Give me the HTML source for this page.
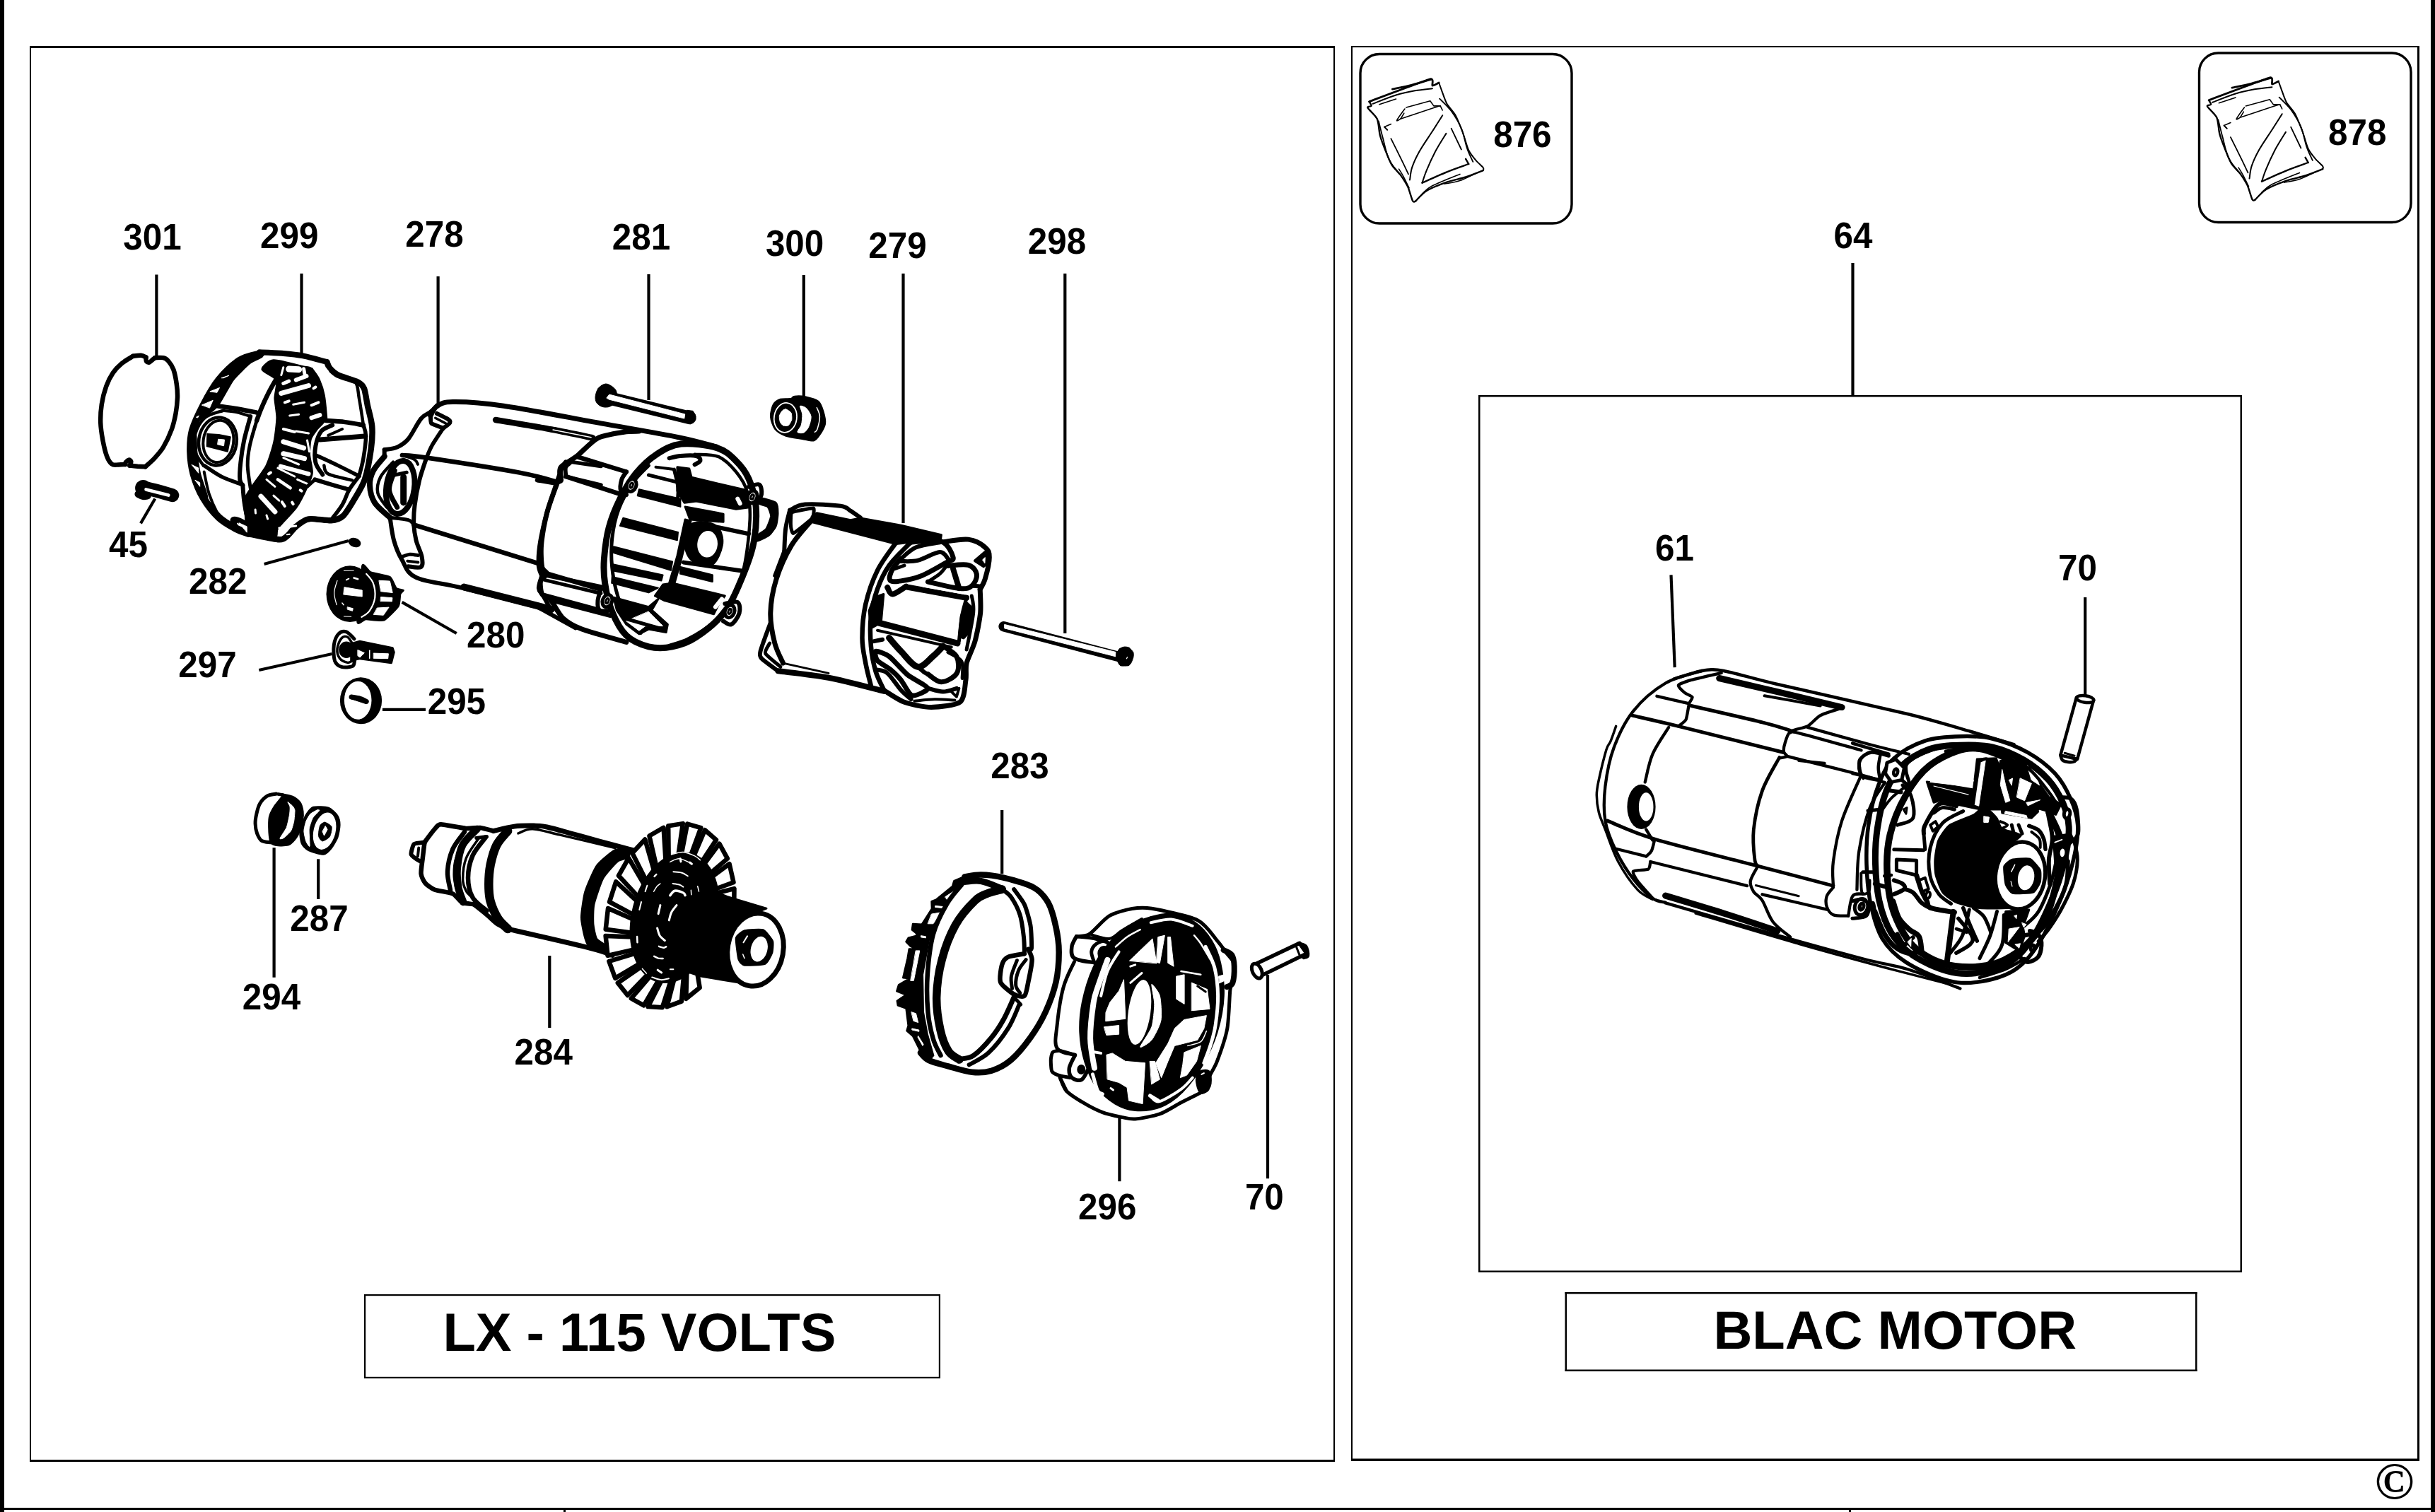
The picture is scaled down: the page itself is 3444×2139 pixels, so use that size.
<!DOCTYPE html>
<html><head><meta charset="utf-8"><title>Motor parts diagram</title>
<style>html,body{margin:0;padding:0;background:#fff}svg{display:block}</style></head>
<body><svg width="3444" height="2139" viewBox="0 0 3444 2139" shape-rendering="geometricPrecision">
<rect width="3444" height="2139" fill="#fff"/>
<g fill="#000">
<rect x="0" y="0" width="6" height="2139"/>
<rect x="3438" y="0" width="6" height="2139"/>
<rect x="0" y="2133" width="3444" height="3"/>
<rect x="797" y="2133" width="3" height="6"/>
<rect x="2615" y="2133" width="3" height="6"/>
<rect x="42" y="65" width="1846" height="3"/><rect x="42" y="2065" width="1846" height="3"/><rect x="42" y="65" width="2" height="2003"/><rect x="1886" y="65" width="2" height="2003"/>
<rect x="1911" y="65" width="1511" height="2"/><rect x="1911" y="2063.5" width="1511" height="3.5"/><rect x="1911" y="65" width="2" height="2002"/><rect x="3419" y="65" width="3" height="2002"/>
<rect x="2091" y="559" width="1080" height="2.5"/><rect x="2091" y="1797.5" width="1080" height="2.5"/><rect x="2091" y="559" width="2.5" height="1241"/><rect x="3168.5" y="559" width="2.5" height="1241"/>
<rect x="515" y="1831" width="815" height="2.2"/><rect x="515" y="1947.8" width="815" height="2.2"/><rect x="515" y="1831" width="2.2" height="119"/><rect x="1327.8" y="1831" width="2.2" height="119"/>
<rect x="2213.5" y="1828" width="894" height="2.5"/><rect x="2213.5" y="1937.5" width="894" height="2.5"/><rect x="2213.5" y="1828" width="2.5" height="112"/><rect x="3105" y="1828" width="2.5" height="112"/>
</g>
<rect x="1924" y="76.5" width="299" height="239.5" rx="27" ry="27" fill="none" stroke="#000" stroke-width="3.4"/>
<rect x="3110.5" y="75" width="299.5" height="239.5" rx="27" ry="27" fill="none" stroke="#000" stroke-width="3.4"/>
<g fill="#000">
<text x="174.3" y="353.5" font-size="52" font-weight="bold" font-family="'Liberation Sans', sans-serif" transform="translate(174.3 0) scale(0.9500 1) translate(-174.3 0)">301</text>
<text x="368.1" y="351.4" font-size="52" font-weight="bold" font-family="'Liberation Sans', sans-serif" transform="translate(368.1 0) scale(0.9500 1) translate(-368.1 0)">299</text>
<text x="573.2" y="348.8" font-size="52" font-weight="bold" font-family="'Liberation Sans', sans-serif" transform="translate(573.2 0) scale(0.9500 1) translate(-573.2 0)">278</text>
<text x="865.8" y="353.5" font-size="52" font-weight="bold" font-family="'Liberation Sans', sans-serif" transform="translate(865.8 0) scale(0.9500 1) translate(-865.8 0)">281</text>
<text x="1082.9" y="362" font-size="52" font-weight="bold" font-family="'Liberation Sans', sans-serif" transform="translate(1082.9 0) scale(0.9500 1) translate(-1082.9 0)">300</text>
<text x="1228.3" y="364.7" font-size="52" font-weight="bold" font-family="'Liberation Sans', sans-serif" transform="translate(1228.3 0) scale(0.9500 1) translate(-1228.3 0)">279</text>
<text x="1453.8" y="359.4" font-size="52" font-weight="bold" font-family="'Liberation Sans', sans-serif" transform="translate(1453.8 0) scale(0.9500 1) translate(-1453.8 0)">298</text>
<text x="154" y="788.4" font-size="52" font-weight="bold" font-family="'Liberation Sans', sans-serif" transform="translate(154 0) scale(0.9500 1) translate(-154 0)">45</text>
<text x="267.1" y="840.2" font-size="52" font-weight="bold" font-family="'Liberation Sans', sans-serif" transform="translate(267.1 0) scale(0.9500 1) translate(-267.1 0)">282</text>
<text x="660" y="916" font-size="52" font-weight="bold" font-family="'Liberation Sans', sans-serif" transform="translate(660 0) scale(0.9500 1) translate(-660 0)">280</text>
<text x="252.3" y="957.8" font-size="52" font-weight="bold" font-family="'Liberation Sans', sans-serif" transform="translate(252.3 0) scale(0.9500 1) translate(-252.3 0)">297</text>
<text x="604.7" y="1009.6" font-size="52" font-weight="bold" font-family="'Liberation Sans', sans-serif" transform="translate(604.7 0) scale(0.9500 1) translate(-604.7 0)">295</text>
<text x="410.3" y="1317.2" font-size="52" font-weight="bold" font-family="'Liberation Sans', sans-serif" transform="translate(410.3 0) scale(0.9500 1) translate(-410.3 0)">287</text>
<text x="342.8" y="1427.8" font-size="52" font-weight="bold" font-family="'Liberation Sans', sans-serif" transform="translate(342.8 0) scale(0.9500 1) translate(-342.8 0)">294</text>
<text x="727.6" y="1506.4" font-size="52" font-weight="bold" font-family="'Liberation Sans', sans-serif" transform="translate(727.6 0) scale(0.9500 1) translate(-727.6 0)">284</text>
<text x="1401.3" y="1101" font-size="52" font-weight="bold" font-family="'Liberation Sans', sans-serif" transform="translate(1401.3 0) scale(0.9500 1) translate(-1401.3 0)">283</text>
<text x="1525" y="1725.4" font-size="52" font-weight="bold" font-family="'Liberation Sans', sans-serif" transform="translate(1525 0) scale(0.9500 1) translate(-1525 0)">296</text>
<text x="1760.9" y="1711.4" font-size="52" font-weight="bold" font-family="'Liberation Sans', sans-serif" transform="translate(1760.9 0) scale(0.9500 1) translate(-1760.9 0)">70</text>
<text x="2112.2" y="208.4" font-size="52" font-weight="bold" font-family="'Liberation Sans', sans-serif" transform="translate(2112.2 0) scale(0.9500 1) translate(-2112.2 0)">876</text>
<text x="3293" y="204.7" font-size="52" font-weight="bold" font-family="'Liberation Sans', sans-serif" transform="translate(3293 0) scale(0.9500 1) translate(-3293 0)">878</text>
<text x="2593.6" y="351.4" font-size="52" font-weight="bold" font-family="'Liberation Sans', sans-serif" transform="translate(2593.6 0) scale(0.9500 1) translate(-2593.6 0)">64</text>
<text x="2341.1" y="793.4" font-size="52" font-weight="bold" font-family="'Liberation Sans', sans-serif" transform="translate(2341.1 0) scale(0.9500 1) translate(-2341.1 0)">61</text>
<text x="2911" y="821.2" font-size="52" font-weight="bold" font-family="'Liberation Sans', sans-serif" transform="translate(2911 0) scale(0.9500 1) translate(-2911 0)">70</text>
<text x="626.4" y="1911" font-size="76" font-weight="bold" font-family="'Liberation Sans', sans-serif">LX - 115 VOLTS</text>
<text x="2423.4" y="1907.5" font-size="76" font-weight="bold" font-family="'Liberation Sans', sans-serif">BLAC MOTOR</text>
<text x="3386.5" y="2119.5" font-size="75" text-anchor="middle" font-family="'Liberation Serif', serif" font-weight="bold">©</text>
</g>
<g stroke="#000" stroke-width="4.2" stroke-linecap="butt">
<line x1="221.4" y1="388.5" x2="221.4" y2="505"/>
<line x1="426.5" y1="387" x2="426.5" y2="503"/>
<line x1="619.6" y1="391" x2="619.6" y2="573"/>
<line x1="917.5" y1="388" x2="917.5" y2="566"/>
<line x1="1136.8" y1="389" x2="1136.8" y2="562"/>
<line x1="1277.5" y1="387" x2="1277.5" y2="740"/>
<line x1="1506.3" y1="387" x2="1506.3" y2="896"/>
<line x1="219.3" y1="705.5" x2="199" y2="740.4"/>
<line x1="373.6" y1="798" x2="493" y2="765"/>
<line x1="568.6" y1="851.9" x2="645.7" y2="896"/>
<line x1="366.3" y1="948" x2="469.6" y2="925"/>
<line x1="540.9" y1="1003.8" x2="602" y2="1003.8"/>
<line x1="387.6" y1="1199.3" x2="387.6" y2="1382.7"/>
<line x1="450.2" y1="1215.3" x2="450.2" y2="1272"/>
<line x1="777.3" y1="1352" x2="777.3" y2="1454"/>
<line x1="1417.2" y1="1146" x2="1417.2" y2="1236"/>
<line x1="1583.4" y1="1580" x2="1583.4" y2="1671.2"/>
<line x1="1793" y1="1379" x2="1793" y2="1667.2"/>
<line x1="2620.5" y1="372" x2="2620.5" y2="559.4"/>
<line x1="2363.5" y1="813.3" x2="2368.7" y2="944.2"/>
<line x1="2949.2" y1="845" x2="2949.2" y2="984"/>
</g>
<g stroke-linecap="round" stroke-linejoin="round">
<path d="M188.3 503.8 C190.1 503.6 196.3 502.4 199.4 502.7 C202.4 503 205.3 504.9 206.5 505.4" fill="none" stroke="#000" stroke-width="6.5"/>
<path d="M206.5 505.4 C206.6 506.3 206.2 509.8 207 511 C207.8 512.1 209.8 512.9 211.3 512.5 C212.8 512.1 214.7 509.6 216 508.6 C217.4 507.5 218.7 506.6 219.2 506.2" fill="none" stroke="#000" stroke-width="6.5"/>
<path d="M219.2 506.2 C221.2 506.2 227.9 505.4 231.1 506.2 C234.3 507 235.9 508.2 238.3 511 C240.6 513.7 243.5 517.4 245.4 522.9 C247.3 528.3 248.9 536.9 249.8 543.5 C250.8 550.1 251.2 555.7 251 562.5 C250.7 569.4 249.9 577.4 248.6 584.8 C247.2 592.2 245.9 599 243 607 C240.1 614.9 235.2 625.5 231.1 632.4 C227 639.3 222.6 643.6 218.4 648.3 C214.2 652.9 207.8 658.2 205.7 660.2" fill="none" stroke="#000" stroke-width="6.5"/>
<path d="M205.7 660.2 C203.9 660.1 198.3 659.9 194.6 659.7 C190.9 659.4 185.3 658.8 183.5 658.6" fill="none" stroke="#000" stroke-width="6.5"/>
<path d="M183.5 658.6 C183.8 657.6 185.6 654.3 185.4 653 C185.2 651.7 183.5 650.5 182.2 650.6 C181 650.8 178.8 652.8 177.9 653.8 C177.1 654.9 177.3 656.5 177.1 657" fill="none" stroke="#000" stroke-width="6.5"/>
<path d="M177.1 657 C175.6 657.1 170.8 657.5 167.6 657.5 C164.4 657.4 160.9 658.6 158.1 656.5 C155.3 654.4 153.1 650.7 151 645.1 C148.8 639.5 146.9 630.8 145.4 622.9 C143.9 614.9 142.5 605.9 142.2 597.5 C142 589 142.5 580.5 143.8 572.1 C145.1 563.6 147.5 554.1 150.2 546.7 C152.8 539.3 156 533 159.7 527.6 C163.4 522.2 167.6 518.1 172.4 514.1 C177.1 510.2 185.6 505.5 188.3 503.8" fill="none" stroke="#000" stroke-width="6.5"/>
<path d="M202.5 689.5 C205.2 690.2 211.5 691.6 218.4 693.5 C225.3 695.3 239.6 699.4 243.8 700.6" fill="none" stroke="#000" stroke-width="19"/>
<ellipse cx="202.5" cy="690.3" rx="11.4" ry="11.4" fill="#000"/>
<path d="M195.4 699 C196.6 699.6 200.3 701.8 202.5 702.2 C204.8 702.6 207.8 701.6 208.9 701.4" fill="none" stroke="#000" stroke-width="10"/>
<path d="M206.5 692.4 L238.3 700.6" fill="none" stroke="#fff" stroke-width="4.6"/>
<path d="M371 522.7 C370.5 519.4 380.2 510.2 386.9 509.8 C393.6 509.3 422.2 517.2 428.6 518.7 C434.9 520.2 438.5 518.4 441.5 522.7 C444.5 526.9 452.1 547.4 454.4 555.4 C456.6 563.4 461.4 585.1 460.7 591.1 C460 597.1 450.9 603.5 448.4 607 C445.9 610.5 440.8 616.7 439.5 620.9 C438.2 625 437.3 637.1 437.5 642.7 C437.7 648.3 441.8 663.2 441.5 668.5 C441.1 673.8 437.2 682.5 434.5 688.3 C431.9 694.1 423.5 711.3 418.7 718.1 C413.8 724.9 396.3 742 392.9 746.9 C389.4 751.7 393.6 758.8 388.9 759.8 C384.1 760.7 357 758.5 352.2 754.8 C347.3 751.1 348 733.5 347.2 728 C346.4 722.6 344.3 712.6 345.2 708.2 C346.2 703.8 351.5 696.1 355.2 690.3 C358.9 684.5 373.2 666.2 377 658.6 C380.8 650.9 386.2 632.7 387.9 624.8 C389.6 617 391.7 598.3 391.9 591.1 C392 583.9 389 569.6 388.9 563.3 C388.8 557.1 393.4 542.3 391.3 537.5 C389.2 532.8 371.5 525.9 371 522.7Z" fill="#000" stroke="#000" stroke-width="3"/>
<path d="M397.8 556.4 L436.5 545.5" fill="none" stroke="#fff" stroke-width="7"/>
<path d="M414.7 572.3 L430.6 569.3" fill="none" stroke="#fff" stroke-width="3"/>
<path d="M409.7 588.1 L422.6 586.2" fill="none" stroke="#fff" stroke-width="3"/>
<path d="M440.5 591.1 L452.4 587.1" fill="none" stroke="#fff" stroke-width="6"/>
<path d="M418.7 610 L436.5 612.9" fill="none" stroke="#fff" stroke-width="3"/>
<path d="M400.8 624.8 L429.6 633.8" fill="none" stroke="#fff" stroke-width="7"/>
<path d="M400.8 641.7 L430.6 648.7" fill="none" stroke="#fff" stroke-width="7"/>
<path d="M400.8 647.7 L422.6 657" fill="none" stroke="#fff" stroke-width="3"/>
<path d="M396.8 659.6 L436.5 670.5" fill="none" stroke="#fff" stroke-width="6"/>
<path d="M392.9 662.1 L416.7 674" fill="none" stroke="#fff" stroke-width="3"/>
<path d="M392.9 678.4 L410.7 690.3" fill="none" stroke="#fff" stroke-width="4.5"/>
<path d="M369 702.2 L388.9 724" fill="none" stroke="#fff" stroke-width="7"/>
<path d="M398.8 710.2 L402.8 716.1" fill="none" stroke="#fff" stroke-width="4"/>
<path d="M408.7 522.1 L422.6 522.7" fill="none" stroke="#fff" stroke-width="9"/>
<path d="M397.8 530.6 L400.8 519.7" fill="none" stroke="#fff" stroke-width="3"/>
<path d="M400.8 542.5 L408.7 539.1" fill="none" stroke="#fff" stroke-width="5"/>
<path d="M418.7 537.5 L433.5 532" fill="none" stroke="#fff" stroke-width="6"/>
<path d="M361.1 721.1 L361.5 726" fill="none" stroke="#fff" stroke-width="3"/>
<path d="M377 729 L378.6 734" fill="none" stroke="#fff" stroke-width="3"/>
<path d="M424.6 693.3 L426.6 694.7" fill="none" stroke="#fff" stroke-width="4"/>
<path d="M413.1 710.6 L414.7 713.1" fill="none" stroke="#fff" stroke-width="4"/>
<path d="M402.8 569.3 L408.7 567.3" fill="none" stroke="#fff" stroke-width="4"/>
<path d="M440.5 573.3 L450.4 569.3" fill="none" stroke="#fff" stroke-width="4"/>
<path d="M443.5 549.4 L446.4 547.5" fill="none" stroke="#fff" stroke-width="4"/>
<path d="M380 670.5 L382.9 668.5" fill="none" stroke="#fff" stroke-width="4"/>
<path d="M377 678.4 L388.9 688.3" fill="none" stroke="#fff" stroke-width="3"/>
<path d="M420.6 678.4 L434.5 684.4" fill="none" stroke="#fff" stroke-width="3"/>
<path d="M386.9 701.2 L394.8 708.2" fill="none" stroke="#fff" stroke-width="3"/>
<path d="M429.6 521.7 L431 529.6" fill="none" stroke="#fff" stroke-width="5"/>
<path d="M400.8 607 L416.7 611" fill="none" stroke="#fff" stroke-width="4"/>
<path d="M434.5 622.9 L437.5 638.7" fill="none" stroke="#fff" stroke-width="3"/>
<path d="M369 500.2 C364.1 501.8 349.2 503.5 339.3 509.8 C329.4 516 318.1 527 309.5 537.5 C300.9 548.1 293.9 561.3 287.7 573.3 C281.5 585.2 275.3 598.1 272.2 609 C269.2 619.9 269.2 628.5 269.4 638.7 C269.7 649 270.8 659.6 273.8 670.5 C276.9 681.4 281.7 694 287.7 704.2 C293.7 714.5 301.9 724.8 309.5 732 C317.1 739.2 326.2 743.7 333.3 747.5 C340.4 751.3 349 753.6 352.2 754.8" fill="none" stroke="#000" stroke-width="10.5"/>
<path d="M369 498.8 C366 499.2 345.2 505 339.3 508.8 C333.3 512.5 314.8 530.2 309.5 536.5 C304.3 542.9 289.9 566.8 286.7 572.3 C283.5 577.7 278.3 588.9 277.8 591.1 C277.3 593.3 278.8 595.8 281.7 594.1 C284.7 592.4 302.8 579.9 307.5 574.2 C312.3 568.6 324.8 543.6 329.4 537.5 C333.9 531.5 349.1 517 353.2 513.7 C357.2 510.5 368.5 506.3 370 504.8 C371.6 503.3 372.1 498.5 369 498.8Z" fill="#000" stroke="#000" stroke-width="3"/>
<path d="M272.2 609 C271.5 611.3 269.3 632.6 269.4 638.7 C269.6 644.9 272 663.9 273.8 670.5 C275.6 677 285.8 701 287.7 704.2 C289.6 707.4 293.2 705.6 292.7 702.2 C292.2 698.8 284.2 676.8 282.7 670.5 C281.2 664.1 278.4 644.3 277.8 638.7 C277.2 633.2 277.3 617.9 276.8 614.9 C276.2 611.9 273 606.6 272.2 609Z" fill="#000" stroke="#000" stroke-width="3"/>
<path d="M367.1 498.3 C372.4 498.5 388.6 499 398.8 499.8 C409.1 500.7 418 501.4 428.6 503.4 C439.2 505.5 456.7 510.7 462.3 512.1" fill="none" stroke="#000" stroke-width="8"/>
<path d="M462.3 512.1 C462.8 513.3 464.2 518.2 466.3 520.7 C468.4 523.1 472.9 527.9 478.2 530.6 C483.5 533.2 501.1 538 506 540.5 C510.8 543 513 545.1 514.9 549.4 C516.7 553.8 518.3 566.1 519.8 573.3 C521.3 580.4 525.5 594.8 526.2 603 C526.9 611.2 526.2 624.7 524.8 634.8 C523.4 644.8 519.2 668.6 515.9 678.4 C512.6 688.2 504.1 701.3 500 708.2 C495.9 715.1 489.4 726.2 485.1 730 C480.9 733.8 474.7 735.8 468.3 736.3 C461.8 736.9 443.1 733.2 436.5 734.4 C429.9 735.5 422.6 741.8 418.7 744.9 C414.7 748 409.9 755.3 406.7 757.8 C403.6 760.2 402.1 763.7 394.8 763.3 C387.6 763 357.9 756.5 352.2 755.4" fill="none" stroke="#000" stroke-width="8.5"/>
<path d="M477.2 537.9 L501.6 546.5 L501.6 549.4 L477.2 541.1Z" fill="#fff" stroke="#fff" stroke-width="2"/>
<path d="M439.5 738.9 L463.9 741.5 L463.3 744.9 L439.5 742.3Z" fill="#fff" stroke="#fff" stroke-width="2"/>
<path d="M460.3 520.7 L464.3 525.6" fill="none" stroke="#fff" stroke-width="2"/>
<path d="M440.5 522.7 C442.1 525.1 447.6 531.4 450.4 537.5 C453.2 543.7 455.6 550.4 457.3 559.4 C459.1 568.3 460.2 585.8 460.7 591.1" fill="none" stroke="#000" stroke-width="5"/>
<path d="M478.2 530.6 C482.1 532.1 497 534.1 502 539.5 C506.9 545 506 553.1 507.9 563.3 C509.9 573.6 512.9 594.7 513.9 601" fill="none" stroke="#000" stroke-width="4.5"/>
<path d="M352.2 743.9 C349.7 742.6 341.1 737.3 337.3 736 C333.5 734.6 330 734.3 329.4 736 C328.7 737.6 332.7 744.2 333.3 745.9" fill="none" stroke="#000" stroke-width="8"/>
<path d="M338.3 739.9 L349.2 744.9 L349.2 752.8Z" fill="#fff" stroke="#fff" stroke-width="1"/>
<path d="M307.5 574.2 C312.2 574.9 326.1 576.7 335.3 578.2 C344.6 579.8 358.5 582.7 363.1 583.6" fill="none" stroke="#000" stroke-width="6.5"/>
<path d="M389.9 537.5 C388.1 540.8 382.4 550.4 379 557.4 C375.5 564.3 371.7 572.9 369 579.2 C366.4 585.5 364.1 592.4 363.1 595.1" fill="none" stroke="#000" stroke-width="6.5"/>
<path d="M363.1 595.1 C361.4 601 355.3 620.2 353.2 630.8 C351 641.4 350 648.7 350.2 658.6 C350.4 668.5 353.5 685 354.2 690.3" fill="none" stroke="#000" stroke-width="5"/>
<path d="M315.5 580.8 C318.8 581.2 328.9 581.8 335.3 583.2 C341.8 584.6 351 588.1 354.2 589.1" fill="none" stroke="#000" stroke-width="4"/>
<path d="M354.2 589.1 C352.7 594.7 347.6 611.9 345.2 622.9 C342.9 633.8 341.3 645.3 340.3 654.6 C339.3 663.9 338.8 673.1 339.3 678.4 C339.8 683.7 342.6 685 343.3 686.3" fill="none" stroke="#000" stroke-width="6"/>
<path d="M288.7 658.6 C292.8 661.2 304.6 670 313.5 674.4 C322.4 678.9 337.5 683.5 342.3 685.4" fill="none" stroke="#000" stroke-width="5.5"/>
<path d="M343.3 686.3 C343.6 690 344.2 700.9 345.2 708.2 C346.2 715.4 347.9 724.7 349.2 730 C350.5 735.3 352.5 738.3 353.2 739.9" fill="none" stroke="#000" stroke-width="6"/>
<path d="M288.7 667.5 C289.8 672.6 292.5 688.5 295.6 698.3 C298.8 708 304.2 719.7 307.5 726 C310.8 732.3 314.2 734.3 315.5 736" fill="none" stroke="#000" stroke-width="4"/>
<path d="M315.5 580.8 C311.2 582.5 296.3 585.4 289.7 591.1 C283.1 596.8 278.1 607 275.8 614.9 C273.5 622.9 273.8 631.5 275.8 638.7 C277.8 646 285.7 655.3 287.7 658.6" fill="none" stroke="#000" stroke-width="4.5"/>
<ellipse cx="307.9" cy="624.4" rx="26.8" ry="34.1" fill="none" stroke="#000" stroke-width="4.5" transform="rotate(8 307.9 624.4)"/>
<ellipse cx="308.9" cy="624.4" rx="21.4" ry="29.8" fill="none" stroke="#000" stroke-width="4" transform="rotate(8 308.9 624.4)"/>
<path d="M293.3 613.9 L309.5 614.9 L325.8 618.3 L321.8 638.7 L292.7 631.2Z" fill="#000" stroke="#000" stroke-width="2"/>
<path d="M309.1 621.3 L317.5 622.1 L316.5 630.8 L307.9 628.8Z" fill="#fff" stroke="#fff" stroke-width="1"/>
<path d="M461.3 595.1 C465.8 595.4 479.3 596 488.1 597.1 C496.9 598.1 509.6 600.7 513.9 601.4" fill="none" stroke="#000" stroke-width="6.5"/>
<path d="M470.2 601.4 C467.6 602.9 458.3 605.1 454.4 610 C450.4 614.9 447.8 623.4 446.4 630.8 C445.1 638.2 444.8 647.8 446.4 654.6 C448.1 661.4 454.7 668.7 456.3 671.5" fill="none" stroke="#000" stroke-width="6"/>
<path d="M484.1 607 L464.3 615.9" fill="none" stroke="#000" stroke-width="4"/>
<path d="M452.4 621.9 L516.9 616.9" fill="none" stroke="#000" stroke-width="7"/>
<path d="M448.4 644.7 C453.4 647 468.3 653.8 478.2 658.6 C488.1 663.4 503 671 507.9 673.5" fill="none" stroke="#000" stroke-width="5.5"/>
<path d="M458.3 658.6 C459.3 660.6 457.7 667 464.3 670.5 C470.9 673.9 492.4 677.9 498 679.4" fill="none" stroke="#000" stroke-width="4.5"/>
<path d="M445.4 678.4 C449.2 679.6 460.2 683 468.3 685.4 C476.4 687.7 489.7 691.5 494 692.7" fill="none" stroke="#000" stroke-width="6"/>
<path d="M513.9 601.4 C514.5 604 517.5 609 517.5 616.9 C517.5 624.8 515.5 639.2 513.9 648.7 C512.3 658.1 508.9 669.3 507.9 673.5" fill="none" stroke="#000" stroke-width="5.5"/>
<path d="M507.9 673.5 C505.6 676.7 498 685.9 494 692.7 C490.1 699.5 488.4 707 484.1 714.1 C479.8 721.3 470.9 732 468.3 735.6" fill="none" stroke="#000" stroke-width="5.5"/>
<path d="M434.5 688.3 L445.4 678.4" fill="none" stroke="#000" stroke-width="5"/>
<path d="M394.8 746.9 L418.7 743.9" fill="none" stroke="#fff" stroke-width="3"/>
<path d="M405.8 756.2 L409.7 755.8" fill="none" stroke="#fff" stroke-width="2"/>
<path d="M313.5 534.6 L323.8 531.2 L316.5 534.6Z" fill="#fff" stroke="#fff" stroke-width="1"/>
<path d="M297.2 553.8 L310.5 548.5 L307.1 555Z" fill="#fff" stroke="#fff" stroke-width="1"/>
<path d="M285.7 572.9 L301.2 566.3 L296.6 576.8Z" fill="#fff" stroke="#fff" stroke-width="1"/>
<path d="M277.8 590.1 L281.3 588.1 L279.8 590.7Z" fill="#fff" stroke="#fff" stroke-width="1"/>
<path d="M271.4 657.6 L280.8 662.1 L280.8 668.9Z" fill="#fff" stroke="#fff" stroke-width="1"/>
<path d="M276.2 679.4 L282.7 682.8 L282.7 687.9Z" fill="#fff" stroke="#fff" stroke-width="1"/>
<path d="M608.9 588.3 C610.4 586.1 612.7 578.2 617.9 574.9 C623.2 571.6 624.7 568.7 640.4 568.6 C656.2 568.4 677.5 569.1 712.4 574.2 C747.3 579.2 808.8 591.5 850 598.9 C891.2 606.3 932.5 613.2 959.7 618.7 C987 624.3 1004.7 629.9 1013.7 632.2" fill="none" stroke="#000" stroke-width="7"/>
<path d="M543.7 636.2 C546.7 635.6 556.1 635.2 561.7 632.6 C567.3 630.1 571.8 627.7 577.5 621 C583.1 614.2 590.2 598.5 595.5 592.2 C600.7 585.8 605.2 585.8 608.9 582.7 C612.7 579.7 616.4 575.2 617.9 573.7" fill="none" stroke="#000" stroke-width="6"/>
<path d="M543.7 636.2 L543.7 645.7" fill="none" stroke="#000" stroke-width="6"/>
<path d="M608.9 588.3 C609 589.1 608.9 597.8 610.1 598.9 C611.3 600.1 625.8 605.2 626.9 605.7" fill="none" stroke="#000" stroke-width="6"/>
<path d="M626.9 605.7 C628.5 604.4 635.3 600.2 636.4 598 C637.4 595.9 636.3 595 633.2 592.8 C630.2 590.7 620.5 586.3 617.9 585" fill="none" stroke="#000" stroke-width="6"/>
<path d="M615.7 591.3 L630.3 598.9" fill="none" stroke="#000" stroke-width="3.5"/>
<path d="M626.9 605.7 C624.3 609.7 615.1 623 611.2 629.9 C607.3 636.9 604.6 644.6 603.3 647.5" fill="none" stroke="#000" stroke-width="5.5"/>
<path d="M701.1 594 C714.3 596.2 757 603.2 779.8 607.5 C802.7 611.7 828.6 617.4 838.3 619.4" fill="none" stroke="#000" stroke-width="8.5"/>
<path d="M725.9 592.2 L813.6 607.9" fill="none" stroke="#fff" stroke-width="1.5"/>
<path d="M782.1 608.1 L836.1 618.7" fill="none" stroke="#fff" stroke-width="1.5"/>
<path d="M568.9 643.9 C574.7 644.5 575.7 643.4 603.3 647.5 C631 651.6 704 662.9 734.9 668.6 C765.8 674.4 779.8 679.9 788.8 682.1" fill="none" stroke="#000" stroke-width="6.5"/>
<path d="M800.1 653.6 C799.1 655.2 793.7 662.5 792.9 665.9 C792 669.4 794.3 677.3 793.8 679.4 C793.2 681.6 789.5 681.8 788.8 682.1" fill="none" stroke="#000" stroke-width="6.5"/>
<path d="M809.1 653.6 L850 659.6" fill="none" stroke="#000" stroke-width="5.5"/>
<path d="M800.1 674.2 L850 686.2" fill="none" stroke="#000" stroke-width="5.5"/>
<path d="M788.8 682.1 C786.6 688.4 779.4 706.1 775.3 719.9 C771.3 733.7 766.8 751.8 764.6 764.9 C762.3 778 761.6 790.4 761.9 798.6 C762.2 806.8 765.6 811.7 766.4 814.3" fill="none" stroke="#000" stroke-width="6.5"/>
<path d="M603.3 647.5 C601.6 652.8 596 668.1 593.2 679.4 C590.4 690.7 587.8 704.9 586.5 715.4 C585.1 725.9 585 734.1 585.3 742.4 C585.7 750.6 586.8 757.4 588.7 764.9 C590.6 772.4 595.5 781.2 596.6 787.4 C597.7 793.5 598.6 799.7 595.5 802 C592.3 804.3 580.5 801.4 577.5 801.3" fill="none" stroke="#000" stroke-width="6"/>
<path d="M585.3 742.4 L760.7 796.8" fill="none" stroke="#000" stroke-width="6.5"/>
<path d="M551.6 732.3 C552.5 737.7 554.4 754.9 557.2 764.9 C560 774.8 563.2 783.2 568.5 791.9 C573.7 800.6 574.1 810.3 588.7 817 C603.3 823.8 624.3 824.5 656.2 832.3 C688 840.1 759.2 858.6 779.8 863.8" fill="none" stroke="#000" stroke-width="6"/>
<path d="M656.2 830.5 L779.8 862" fill="none" stroke="#000" stroke-width="10"/>
<path d="M570.3 786.9 C571.8 786.5 576.2 784.4 579.7 784.2 C583.2 784 589.5 785.3 591.4 785.6" fill="none" stroke="#000" stroke-width="5"/>
<path d="M576.3 793.7 L591.4 795.5" fill="none" stroke="#000" stroke-width="4"/>
<path d="M543.7 645.7 C541.1 649.1 531.4 659.2 528 665.9 C524.5 672.7 522.7 678.7 523 686.2 C523.3 693.7 525 703.2 529.8 710.9 C534.5 718.6 548 728.7 551.6 732.3" fill="none" stroke="#000" stroke-width="8"/>
<path d="M556.1 653.6 C553.1 657.1 541.7 667.6 538.1 674.9 C534.5 682.2 532.8 690.3 534.3 697.4 C535.8 704.5 545 714.3 547.1 717.6" fill="none" stroke="#000" stroke-width="4.5"/>
<ellipse cx="566.2" cy="689.5" rx="19.8" ry="37.8" fill="none" stroke="#000" stroke-width="8" transform="rotate(8 566.2 689.5)"/>
<path d="M551.6 732.3 C555.9 732.8 571.8 734 577.5 735.6 C583.1 737.3 584 741.3 585.3 742.4" fill="none" stroke="#000" stroke-width="5"/>
<path d="M568.9 643.9 C571.8 644.9 582.8 648 586.5 650.2 C590.1 652.4 590.2 655.8 591 656.9" fill="none" stroke="#000" stroke-width="4"/>
<path d="M558.3 665.9 C557 670.4 549.9 684.3 550.5 692.9 C551 701.5 559.8 713.5 561.7 717.6" fill="none" stroke="#000" stroke-width="7"/>
<path d="M570.7 674.9 L570.7 710.9" fill="none" stroke="#000" stroke-width="9"/>
<path d="M555 672.7 L575.2 668.2" fill="none" stroke="#000" stroke-width="5"/>
<path d="M766.4 814.3 C765.6 817.3 761.5 827.5 761.9 832.3 C762.2 837.2 765.6 838.3 768.6 843.6 C771.6 848.8 778 860.4 779.8 863.8" fill="none" stroke="#000" stroke-width="6"/>
<path d="M766.4 812.5 L850 830.1" fill="none" stroke="#000" stroke-width="6"/>
<path d="M770.9 820.6 L850 839.5" fill="none" stroke="#000" stroke-width="5"/>
<path d="M768.6 841.8 L850 864.3" fill="none" stroke="#000" stroke-width="5.5"/>
<path d="M963.5 628.1 C977.7 626.6 1001.2 629.7 1014.1 633.7 C1027 637.7 1033.6 644.9 1041.1 652.2 C1048.6 659.5 1054.4 666.8 1059.1 677.6 C1063.8 688.4 1068.1 701.8 1069.2 716.9 C1070.3 732.1 1069 752.2 1065.8 768.7 C1062.6 785.1 1056.8 799.8 1050.1 815.9 C1043.3 832 1036.2 851.1 1025.3 865.3 C1014.5 879.6 997.2 893.1 984.9 901.3 C972.5 909.6 962.4 912.6 951.1 914.8 C939.9 917.1 928.3 917.4 917.4 914.8 C906.5 912.2 894.5 907.3 885.9 899.1 C877.3 890.8 870.7 877.7 865.7 865.3 C860.6 853 857.4 837.2 855.6 824.9 C853.7 812.5 853.5 804.3 854.4 791.1 C855.4 778 857.4 760.4 861.2 746.2 C864.9 731.9 870.6 718.4 876.9 705.7 C883.3 692.9 890.8 680.2 899.4 669.7 C908 659.2 918 649.7 928.7 642.7 C939.3 635.8 949.3 629.6 963.5 628.1Z" fill="none" stroke="#000" stroke-width="9"/>
<path d="M917.4 658.5 C913.7 662.6 902 672.7 894.9 683.2 C887.8 693.7 879.6 708.3 874.7 721.4 C869.8 734.5 867.2 748.4 865.7 761.9 C864.2 775.4 864.4 788.9 865.7 802.4 C867 815.9 870 830.9 873.6 842.9 C877.1 854.9 881.6 865.5 887.1 874.3 C892.5 883.1 903 892.1 906.2 895.7" fill="none" stroke="#000" stroke-width="5"/>
<path d="M957.9 660.7 L974.8 663 L978.1 675.3 L1054.6 693.3 L1058 718.1 L1041.1 720.3 L984.9 709.1 L968 711.3 L957.9 694.4Z" fill="#000" stroke="#000" stroke-width="3"/>
<path d="M903.9 692.2 L962.4 705.7 L962.4 716.9 L901.7 701.2Z" fill="#000" stroke="#000" stroke-width="2"/>
<path d="M969.1 716.9 L1023.1 727.1 L1023.1 738.3 L975.9 734.9Z" fill="#000" stroke="#000" stroke-width="3"/>
<path d="M881.4 732.7 L959 752.9 L957.9 764.2 L876.9 743.9Z" fill="#000" stroke="#000" stroke-width="2"/>
<path d="M867.9 773.2 L951.1 794.5 L948.9 806.9 L867.9 782.1Z" fill="#000" stroke="#000" stroke-width="2"/>
<path d="M865.7 797.9 L937.6 813.6 L935.4 821.5 L865.2 806.9Z" fill="#000" stroke="#000" stroke-width="2"/>
<path d="M865.7 815.9 L930.9 831.6 L917.4 838.4 L865.2 824.9Z" fill="#000" stroke="#000" stroke-width="2"/>
<path d="M951.1 824.9 L1025.3 842.9 L1016.4 855.2 L1009.6 868.7 L939.9 849.6 L926.4 842.9 L937.6 827.1Z" fill="#000" stroke="#000" stroke-width="3"/>
<path d="M962.4 802.4 L1007.4 813.6 L1007.4 822.6 L962.4 811.4Z" fill="#000" stroke="#000" stroke-width="3"/>
<path d="M969.1 734.9 L977 737.2 L962.4 795.6 L953.4 827.1 L946.6 824.9 L957.9 786.6Z" fill="#000" stroke="#000" stroke-width="3"/>
<path d="M867.9 845.1 L917.4 858.6 L930.9 847.4 L921.9 863.1 L944.4 883.3 L942.1 894.6 L917.4 890.1 L903.9 896.8 L885.9 883.3 L872.4 863.1Z" fill="#000" stroke="#000" stroke-width="3"/>
<path d="M917.4 865.3 L937.6 885.6 L912.9 885.6 L903.9 892.3 L885.9 878.8Z" fill="#fff" stroke="#fff" stroke-width="1"/>
<path d="M885.9 875.5 L933.2 889" fill="none" stroke="#000" stroke-width="5"/>
<path d="M1011.9 858.6 L1020.9 847.4" fill="none" stroke="#fff" stroke-width="6"/>
<path d="M1043.3 705.7 L1046.7 712.4" fill="none" stroke="#fff" stroke-width="6"/>
<path d="M975.9 743.9 C971 749.2 968.4 762.7 969.1 770.9 C969.9 779.1 974 788.9 980.4 793.4 C986.7 797.9 1000.6 801.6 1007.4 797.9 C1014.1 794.1 1019.4 779.1 1020.9 770.9 C1022.3 762.7 1020.1 753.7 1016.4 748.4 C1012.6 743.2 1005.1 740.2 998.4 739.4 C991.6 738.7 980.7 738.7 975.9 743.9Z" fill="#000" stroke="#000" stroke-width="4"/>
<ellipse cx="1000.6" cy="769.8" rx="15.3" ry="19.8" fill="#fff" stroke="#000" stroke-width="2" transform="rotate(5 1000.6 769.8)"/>
<path d="M989.4 740.5 L1059.1 755.2" fill="none" stroke="#000" stroke-width="6"/>
<path d="M966.9 795.6 L1052.3 808" fill="none" stroke="#000" stroke-width="6"/>
<path d="M982.6 642.7 C988.2 643.3 1006.6 642 1016.4 646.1 C1026.1 650.2 1034.3 659.2 1041.1 667.5 C1047.8 675.7 1053.6 684.3 1056.8 695.6 C1060.1 706.8 1061.4 717.1 1060.7 734.9 C1059.9 752.7 1056.7 783.6 1052.3 802.4 C1047.9 821.1 1041.8 834.2 1034.3 847.4 C1026.8 860.5 1017.5 871.7 1007.4 881.1 C997.2 890.5 983.7 898.3 973.6 903.6 C963.5 908.9 951.1 911.4 946.6 913" fill="none" stroke="#000" stroke-width="4.5"/>
<path d="M946.6 648.3 C949.3 647.8 956 645.5 962.4 645 C968.8 644.4 980.2 643.8 984.9 645 C989.6 646.1 990.9 649.7 990.5 651.7 C990.1 653.8 983.9 656.4 982.6 657.3" fill="none" stroke="#000" stroke-width="6"/>
<path d="M927.5 660.7 L953.4 664.1" fill="none" stroke="#000" stroke-width="4"/>
<path d="M953.4 664.1 C954.3 668.4 958.3 681.9 959 689.9 C959.8 698 958.1 708.7 957.9 712.4" fill="none" stroke="#000" stroke-width="5"/>
<path d="M917.4 672 L957.9 682.1" fill="none" stroke="#000" stroke-width="5"/>
<path d="M903.9 610.1 C901.1 610.3 890.4 610 882.6 611.2 C874.8 612.5 854.3 615.3 845.5 619.8 C836.6 624.3 823.1 639.6 816.2 645 C809.3 650.4 797 656.7 793.7 660.3 C790.4 663.9 792.2 669.1 791.5 672 C790.7 674.9 790.5 674.9 788.1 682.1 C785.7 689.3 776.5 714.1 773.5 725.9 C770.5 737.8 766.5 760.7 765.6 770.9 C764.7 781.1 765.7 797 766.7 802.4 C767.8 807.8 773.8 808.7 773.5 811.4 C773.2 814.1 765.4 818.7 764.5 822.6 C763.6 826.5 764.9 837.3 766.7 840.6 C768.5 843.9 774.1 842.9 778 847.4 C781.9 851.9 790 868.6 796 874.3 C802 880 811 885.5 823 890.1 C835 894.6 877.5 906.1 885.9 908.5" fill="none" stroke="#000" stroke-width="7"/>
<path d="M816.2 646.1 L885.9 667.5" fill="none" stroke="#000" stroke-width="6.5"/>
<path d="M807.2 654 C806 655.2 801.2 657.8 800 661.2 C798.9 664.5 800.4 672 800.5 674.2" fill="none" stroke="#000" stroke-width="6"/>
<path d="M800.5 674.2 L876.9 698.9" fill="none" stroke="#000" stroke-width="6.5"/>
<path d="M760 679.2 L787 683.7" fill="none" stroke="#000" stroke-width="6.5"/>
<path d="M773.5 811.4 L849.9 833.9" fill="none" stroke="#000" stroke-width="6.5"/>
<path d="M769 841.7 L846.6 862.6" fill="none" stroke="#000" stroke-width="6"/>
<path d="M779.1 849.2 L863.4 871" fill="none" stroke="#000" stroke-width="6"/>
<path d="M760 858.6 L814 888.3" fill="none" stroke="#000" stroke-width="6"/>
<ellipse cx="893.1" cy="686.6" rx="6.7" ry="9" fill="#fff" stroke="#000" stroke-width="5" transform="rotate(20 893.1 686.6)"/>
<ellipse cx="893.1" cy="686.6" rx="2" ry="3.6" fill="none" stroke="#000" stroke-width="3" transform="rotate(20 893.1 686.6)"/>
<ellipse cx="858.9" cy="850.1" rx="6.7" ry="9" fill="#fff" stroke="#000" stroke-width="5" transform="rotate(20 858.9 850.1)"/>
<ellipse cx="858.9" cy="850.1" rx="2" ry="3.6" fill="none" stroke="#000" stroke-width="3" transform="rotate(20 858.9 850.1)"/>
<ellipse cx="1064" cy="703" rx="6.7" ry="9" fill="#fff" stroke="#000" stroke-width="5" transform="rotate(20 1064 703)"/>
<ellipse cx="1064" cy="703" rx="2" ry="3.6" fill="none" stroke="#000" stroke-width="3" transform="rotate(20 1064 703)"/>
<ellipse cx="1032.1" cy="864.9" rx="6.7" ry="9" fill="#fff" stroke="#000" stroke-width="5" transform="rotate(20 1032.1 864.9)"/>
<ellipse cx="1032.1" cy="864.9" rx="2" ry="3.6" fill="none" stroke="#000" stroke-width="3" transform="rotate(20 1032.1 864.9)"/>
<path d="M885.9 667.5 C884.8 669.3 880.5 674.2 879.2 678.7 C877.9 683.2 876.9 690.9 878.1 694.4 C879.2 698 884.6 699.1 885.9 700.1" fill="none" stroke="#000" stroke-width="6"/>
<path d="M849.9 833.9 C849.2 836.5 845.8 844.7 845.5 849.6 C845.1 854.5 845.5 860.7 847.7 863.1 C849.9 865.5 857.1 864 858.9 864.2" fill="none" stroke="#000" stroke-width="6"/>
<path d="M1059.1 688.8 C1061.5 688.3 1070.7 683.8 1073.7 685.5 C1076.7 687.1 1077.6 694.4 1077.1 698.9 C1076.5 703.4 1071.4 710.2 1070.3 712.4" fill="none" stroke="#000" stroke-width="6"/>
<path d="M1025.3 854.1 C1028.3 853.7 1040 849.6 1043.3 851.9 C1046.7 854.1 1047.1 862.3 1045.6 867.6 C1044.1 872.8 1038.1 881.5 1034.3 883.3 C1030.6 885.2 1025 879.6 1023.1 878.8" fill="none" stroke="#000" stroke-width="6"/>
<path d="M1074.8 704.6 C1077.2 704.5 1094.8 709.2 1097.3 711.3 C1099.8 713.4 1100 722.7 1100 725.9 C1100 729.2 1098.6 740.8 1097.3 743.9 C1096 747.1 1089.9 755.3 1087.2 757.4 C1084.5 759.5 1071.9 765.3 1070.3 765.3 C1068.7 765.3 1070.1 759.1 1071.4 757.4 C1072.8 755.7 1081.9 751.1 1083.8 748.4 C1085.7 745.7 1090.3 733.6 1090.6 730.4 C1090.8 727.3 1087.7 718.7 1086.1 716.9 C1084.4 715.1 1074.8 713.7 1073.7 712.4 C1072.6 711.2 1072.5 704.7 1074.8 704.6Z" fill="#000" stroke="#000" stroke-width="3"/>
<path d="M861.8 563.3 L975.6 590.9" fill="none" stroke="#000" stroke-width="18.5"/>
<path d="M971.9 580.3 L980.1 581.4 L983 586.2 L983 593.9 L976.7 599.8 L969 597.3Z" fill="#000" stroke="#000" stroke-width="1"/>
<path d="M846.3 549.2 C848.7 546.2 853.2 543.3 856.6 543 C860.1 542.8 864.4 545.7 867 547.7 C869.5 549.8 871.6 551.7 872.1 555.1 C872.6 558.6 871.5 565.1 869.9 568.4 C868.3 571.8 865.5 573.9 862.5 575.1 C859.6 576.3 855.3 576.4 852.2 575.5 C849.1 574.7 845.7 572.3 844 569.9 C842.4 567.5 841.8 564.5 842.1 561 C842.5 557.6 843.8 552.2 846.3 549.2Z" fill="#000" stroke="#000" stroke-width="1"/>
<path d="M858.1 562.8 L861.8 558.1 L968.7 585.9 L967.8 592.1 L861.8 565.2Z" fill="#fff" stroke="#fff" stroke-width="1"/>
<path d="M1089.9 589.1 C1089.6 584.5 1092.1 575.4 1093.9 572.1 C1095.7 568.9 1100.3 565.8 1103.5 564.7 C1106.8 563.7 1115.6 564.5 1118.3 564 C1121 563.5 1120.7 561.1 1123.5 560.8 C1126.2 560.4 1134.5 560.4 1139 561.3 C1143.5 562.3 1154.1 565 1157.5 567.7 C1160.9 570.4 1163.1 577.5 1164.4 581.7 C1165.7 586 1167.8 595 1167.1 599.5 C1166.3 604 1161.1 612.6 1158.9 615.7 C1156.8 618.9 1154.1 622.7 1150.8 623.4 C1147.6 624.1 1139.9 621.8 1134.6 620.9 C1129.2 620 1116 618.4 1110.9 616.5 C1105.8 614.6 1098.9 610.5 1096.1 606.9 C1093.3 603.2 1090.2 593.8 1089.9 589.1Z" fill="#000" stroke="#000" stroke-width="2"/>
<ellipse cx="1110.9" cy="590.9" rx="16" ry="21" fill="none" stroke="#fff" stroke-width="1.8" transform="rotate(8 1110.9 590.9)"/>
<path d="M1111.6 578.8 C1112.9 579.1 1118.2 582.5 1119 584 C1119.8 585.4 1120.1 591.8 1119.8 593.6 C1119.4 595.3 1116.5 600.8 1115.3 601.7 C1114.2 602.6 1109.1 602.6 1107.9 602.1 C1106.8 601.7 1104.1 598.6 1103.5 597.3 C1102.9 595.9 1102 590 1102.3 588.4 C1102.6 586.8 1105.5 582 1106.5 581 C1107.4 580 1110.4 578.5 1111.6 578.8Z" fill="#fff" stroke="#fff" stroke-width="1"/>
<path d="M1131.6 574.4 C1132.3 573.2 1138.4 575.6 1140.5 577.6 C1142.5 579.6 1146.7 585.6 1147.1 589.1 C1147.6 592.6 1145.1 600.9 1143.7 603.9 C1142.3 607 1138.9 611.1 1136.8 612.1 C1134.7 613 1128.4 612.8 1127.9 611.3 C1127.4 609.8 1132.4 604.3 1133.4 601 C1134.3 597.6 1135.1 589.7 1134.8 586.2 C1134.6 582.6 1130.8 575.5 1131.6 574.4Z" fill="#fff" stroke="#fff" stroke-width="1"/>
<path d="M1155.3 576.6 C1155.9 578.7 1159.3 584.1 1159.4 589.1 C1159.5 594.2 1157.2 603.2 1156 606.9 C1154.8 610.6 1152.9 610.6 1152.3 611.3" fill="none" stroke="#fff" stroke-width="1.5"/>
<path d="M1148.1 731 L1155.2 725.7 L1202.9 735.7 L1217.1 732.9 L1274.3 743.3 L1331.4 756.7 L1330.2 764.8 L1288.6 767.1 L1267.1 769.5 L1148.1 738.6Z" fill="#000" stroke="#000" stroke-width="3"/>
<path d="M1117.1 721.9 C1120.7 720.5 1126.7 714.6 1138.6 713.6 C1150.5 712.5 1177.9 714.2 1188.6 715.7 C1199.3 717.2 1198.1 719.8 1202.9 722.6 C1207.6 725.4 1214.8 730.8 1217.1 732.4" fill="none" stroke="#000" stroke-width="6"/>
<path d="M1117.1 721.9 C1116.2 726.2 1112.5 738.2 1111.2 747.6 C1109.9 757.1 1109.6 773.4 1109.3 778.6" fill="none" stroke="#000" stroke-width="6"/>
<path d="M1120 725 C1122.1 723.3 1148.6 718.5 1150.5 719 C1152.4 719.6 1150.4 731 1148.6 733.3 C1146.7 735.7 1124.4 753.5 1122.4 754.3 C1120.4 755.1 1118.7 747.2 1118.6 745.2 C1118.4 743.3 1117.9 726.7 1120 725Z" fill="none" stroke="#000" stroke-width="5"/>
<path d="M1148.1 735.7 C1143.3 741.7 1127.9 757.5 1119.5 771.4 C1111.2 785.3 1103.1 803.2 1098.1 819 C1093.1 834.9 1090.2 851.6 1089.8 866.7 C1089.4 881.7 1092.7 897.6 1095.7 909.5 C1098.7 921.4 1105.6 933.3 1107.6 938.1" fill="none" stroke="#000" stroke-width="7"/>
<path d="M1109.3 778.6 L1095.7 814.3" fill="none" stroke="#000" stroke-width="5"/>
<path d="M1089.8 881 C1088.3 885 1076.7 916.4 1075.5 921.4 C1074.2 926.5 1074.6 928.6 1077.1 931.4 C1079.6 934.2 1098.1 947.5 1100.5 949.3" fill="none" stroke="#000" stroke-width="6"/>
<path d="M1088.6 910 C1088 911.4 1081.1 921 1082.6 924.3 C1084.2 927.6 1101.9 941.4 1104 943.3" fill="none" stroke="#000" stroke-width="5"/>
<path d="M1100.5 949.3 C1112.4 950.9 1146.9 954 1171.9 958.8 C1196.9 963.6 1237.4 974.7 1250.5 977.9" fill="none" stroke="#000" stroke-width="8"/>
<path d="M1107.6 938.1 L1171.9 952.4" fill="none" stroke="#000" stroke-width="3"/>
<path d="M1267.1 767.9 C1262.8 774.4 1248.1 792.7 1241 807.1 C1233.8 821.6 1227.9 838.9 1224.3 854.8 C1220.7 870.6 1219.5 888.5 1219.5 902.4 C1219.5 916.3 1222.2 926.8 1224.3 938.1 C1226.3 949.4 1230.6 964.9 1231.9 970.2" fill="none" stroke="#000" stroke-width="6.5"/>
<path d="M1288.6 766.7 C1283.4 772.2 1265.6 788.9 1257.6 800 C1249.7 811.1 1245.2 821.4 1241 833.3 C1236.7 845.2 1233.4 857.9 1231.9 871.4 C1230.4 884.9 1230.8 901.2 1231.9 914.3 C1233 927.4 1235.5 939.6 1238.6 950 C1241.7 960.4 1248.5 972.2 1250.5 976.7" fill="none" stroke="#000" stroke-width="6.5"/>
<path d="M1288.6 767.1 C1295.7 766.9 1321.5 762.4 1331.4 766 C1341.3 769.5 1346.9 783.6 1348.1 788.6 C1349.3 793.5 1346.1 791.3 1338.6 795.7 C1331 800.1 1313.6 810.4 1302.9 814.8 C1292.1 819.1 1281.6 820.9 1274.3 821.9 C1266.9 822.9 1260.8 823.6 1258.8 820.7 C1256.8 817.9 1259.8 809.8 1262.4 804.8 C1265 799.7 1272.3 792.9 1274.3 790.5" fill="none" stroke="#000" stroke-width="7"/>
<path d="M1274.3 790.5 C1277.9 787.8 1286.4 778.2 1295.7 774.3 C1305 770.4 1324.5 768.3 1330.2 767.1" fill="none" stroke="#000" stroke-width="6"/>
<path d="M1274.3 794 C1278.3 793.8 1289 795 1298.1 792.9 C1307.2 790.7 1321.9 781.3 1329 781 C1336.2 780.6 1339 788.9 1341 790.5" fill="none" stroke="#000" stroke-width="6"/>
<path d="M1264.8 804.8 L1279 800" fill="none" stroke="#000" stroke-width="5"/>
<path d="M1255.2 831 C1256.4 832.5 1258 840.7 1262.4 840.5 C1266.7 840.3 1278.3 831.5 1281.4 829.8" fill="none" stroke="#000" stroke-width="8"/>
<path d="M1333.8 766.7 C1339.8 766.1 1359.6 761.8 1369.5 763.1 C1379.4 764.4 1388.4 770 1393.3 774.3 C1398.3 778.5 1399.3 781.1 1399.3 788.6 C1399.3 796 1395.5 811.5 1393.3 819 C1391.2 826.6 1387.4 831.3 1386.2 833.8" fill="none" stroke="#000" stroke-width="7"/>
<path d="M1379 793.3 L1393.3 781 L1398.1 795.2 L1391 801.2Z" fill="#000" stroke="#000" stroke-width="4"/>
<path d="M1389.8 791.7 L1393.3 788.6 L1392.9 796.4Z" fill="#fff" stroke="#fff" stroke-width="1"/>
<path d="M1338.6 800.5 C1343.7 800.3 1362.4 797.3 1369.5 799.3 C1376.7 801.3 1380.6 807.5 1381.4 812.4 C1382.3 817.3 1378.7 825.2 1374.8 828.6 C1370.8 831.9 1368 833.5 1357.6 832.6 C1347.2 831.7 1319.9 824.7 1312.4 823.1" fill="none" stroke="#000" stroke-width="7"/>
<path d="M1348.1 804.8 L1356.4 832.1" fill="none" stroke="#000" stroke-width="8"/>
<path d="M1312.4 823.1 C1315.2 821.2 1324.7 815.7 1329 811.9 C1333.4 808.1 1337 802.4 1338.6 800.5" fill="none" stroke="#000" stroke-width="5"/>
<path d="M1374.3 828.6 L1388.6 829.8" fill="none" stroke="#000" stroke-width="6"/>
<path d="M1236.2 845.2 L1249.8 840.5 L1246.2 881 L1231.9 888.6 L1229 864.3Z" fill="#000" stroke="#000" stroke-width="3"/>
<path d="M1367.1 852.4 L1377.1 861.9 L1372.4 892.9 L1362.9 902.9 L1356.4 900.5 L1359.3 871.4Z" fill="#000" stroke="#000" stroke-width="3"/>
<path d="M1281.4 830.2 L1367.1 845.7" fill="none" stroke="#000" stroke-width="8"/>
<path d="M1305.2 829.8 L1364.8 840.5" fill="none" stroke="#fff" stroke-width="1.5"/>
<path d="M1243.8 881.4 L1354 910" fill="none" stroke="#000" stroke-width="9"/>
<path d="M1241 891.7 L1345.7 915.5" fill="none" stroke="#000" stroke-width="4"/>
<path d="M1367.1 845.7 C1366 850 1362.3 861.2 1360.5 871.4 C1358.7 881.7 1357.1 901.2 1356.4 907.1" fill="none" stroke="#000" stroke-width="5"/>
<path d="M1386.2 833.8 C1386.3 838.2 1387.6 856.9 1386.7 866.7 C1385.7 876.4 1381.7 897.6 1379 907.1 C1376.4 916.7 1368.9 930.8 1367.1 938.1 C1365.4 945.4 1367.2 954.6 1366 961.9 C1364.7 969.2 1364.6 987.7 1358.1 992.9 C1351.6 998 1327.7 1000.4 1317.1 1000.5 C1306.6 1000.5 1287.9 996.5 1279 993.3 C1270.2 990.2 1254.3 978.9 1250.5 976.7" fill="none" stroke="#000" stroke-width="7"/>
<path d="M1374.3 842.9 C1374.7 846.8 1377.9 854 1376.7 866.7 C1375.5 879.4 1368.7 910.3 1367.1 919" fill="none" stroke="#000" stroke-width="5"/>
<path d="M1257.6 902.4 C1260.4 905.6 1267.5 914.6 1274.3 921.4 C1281 928.3 1290.6 942.1 1298.1 943.3 C1305.6 944.5 1313.6 933.4 1319.5 928.6 C1325.5 923.7 1331.4 916.7 1333.8 914.3" fill="none" stroke="#000" stroke-width="9"/>
<path d="M1333.8 914.3 C1337 916.7 1349.6 922.2 1352.9 928.6 C1356.1 934.9 1356.9 946.3 1353.3 952.4 C1349.8 958.4 1338.3 964.6 1331.4 964.8 C1324.6 965 1315.6 955.4 1312.4 953.6" fill="none" stroke="#000" stroke-width="7"/>
<path d="M1341 922.6 C1344.1 924.8 1356.6 929.6 1360 935.7 C1363.4 941.9 1361 955.6 1361.2 959.5" fill="none" stroke="#000" stroke-width="5"/>
<path d="M1238.6 921.4 C1240.5 920.7 1252.3 924.7 1257.6 928.6 C1262.9 932.5 1277.4 949.5 1283.8 954.8 C1290.2 960 1311.7 970.4 1312.4 973.8 C1313.1 977.2 1294.2 985.2 1289.8 983.8 C1285.3 982.4 1277.8 966.1 1274.3 961.9 C1270.8 957.7 1263.9 950.8 1260 947.6 C1256.1 944.4 1243.5 937.6 1241 934.5 C1238.5 931.5 1236.6 922.1 1238.6 921.4Z" fill="none" stroke="#000" stroke-width="7"/>
<path d="M1241 947.6 C1243.3 948.4 1249.7 947.6 1255.2 952.4 C1260.8 957.1 1268.7 970 1274.3 976.2 C1279.8 982.3 1286.2 987.1 1288.6 989.3" fill="none" stroke="#000" stroke-width="6"/>
<path d="M1312.4 973.8 C1316 974.6 1327.1 978.6 1333.8 978.6 C1340.6 978.6 1349.7 974.6 1352.9 973.8" fill="none" stroke="#000" stroke-width="6"/>
<path d="M1344.5 977.4 L1356.4 973.8 L1352.9 985.7Z" fill="none" stroke="#000" stroke-width="4"/>
<path d="M1293.3 991.7 C1298.1 991.3 1312.4 989.5 1321.9 989.3 C1331.4 989.1 1345.7 990.3 1350.5 990.5" fill="none" stroke="#000" stroke-width="4"/>
<path d="M1298.1 943.3 C1299.7 944.6 1305.2 949.5 1307.6 951.2 C1310 952.9 1311.6 953.2 1312.4 953.6" fill="none" stroke="#000" stroke-width="6"/>
<path d="M1236.2 907.1 L1248.1 904.8" fill="none" stroke="#000" stroke-width="6"/>
<path d="M1419.6 886.3 L1580.2 928.4" fill="none" stroke="#000" stroke-width="14.5"/>
<path d="M1421 883.5 L1577.8 922.4 L1577.8 928.8 L1421 888.9Z" fill="#fff" stroke="#fff" stroke-width="1"/>
<path d="M1583.2 918 C1584.3 916.9 1588.7 915.2 1590.1 915.1 C1591.5 914.9 1595.7 915.4 1597 916.2 C1598.3 917 1602.3 921.6 1602.9 922.9 C1603.5 924.3 1603.2 928.4 1602.9 929.8 C1602.6 931.3 1600.6 936.5 1599.9 937.7 C1599.2 938.9 1597.5 941.3 1596 941.7 C1594.5 942.1 1586.2 942.4 1584.7 941.7 C1583.1 941 1580.8 936.3 1580.2 934.8 C1579.6 933.2 1578.4 927.6 1578.7 925.9 C1579 924.2 1582 919.1 1583.2 918Z" fill="#000" stroke="#000" stroke-width="1"/>
<path d="M1593.5 931.8 L1594.5 929.6" fill="none" stroke="#fff" stroke-width="1.2"/>
<ellipse cx="501.6" cy="767.5" rx="9" ry="6.5" fill="#000" transform="rotate(20 501.6 767.5)"/>
<ellipse cx="495" cy="840.2" rx="33.5" ry="39.9" fill="#000"/>
<path d="M512.2 800.3 C513.8 794.4 521 807.9 524.3 809.2 C527.6 810.6 548.8 814.3 551.8 816.1 C554.8 818 558.8 830 560.4 831.6 C562 833.2 570.5 834.3 571 835 C571.5 835.8 567 838.7 566.4 840.5 C565.8 842.4 565.8 854.3 563.8 857.4 C561.9 860.5 547.1 875.9 543.2 877.5 C539.3 879.1 520.5 876.1 517.4 876.3 C514.2 876.5 505.8 886.1 505.3 879.7 C504.9 873.4 510.7 806.2 512.2 800.3Z" fill="#000" stroke="#000" stroke-width="2"/>
<path d="M487.3 830.7 L512.2 835 L512.2 844 L486.1 841Z" fill="#fff" stroke="#fff" stroke-width="1"/>
<path d="M518.2 811.8 C519.8 814 525.7 819.1 527.7 824.7 C529.7 830.3 531.1 838.8 530.3 845.3 C529.4 851.9 525.7 859.7 522.5 864.3 C519.4 868.9 513.2 871.4 511.4 872.9" fill="none" stroke="#fff" stroke-width="2.2"/>
<path d="M536.3 821.3 L551.4 822.1 L555.2 838.5 L538.9 836.7Z" fill="#fff" stroke="#fff" stroke-width="1"/>
<path d="M538.9 844.5 L554.9 845.7 L554.4 850.9 L538.4 850.5Z" fill="#fff" stroke="#fff" stroke-width="1"/>
<path d="M533.7 860 L550.1 859.1 L542.3 870.3 L528.6 869.4Z" fill="#fff" stroke="#fff" stroke-width="1"/>
<path d="M477 821.3 C476.3 824.1 472.8 832.7 472.7 838.5 C472.5 844.2 475.5 852.8 476.1 855.7" fill="none" stroke="#fff" stroke-width="1.2"/>
<path d="M489.9 820.4 L493.3 818.7" fill="none" stroke="#fff" stroke-width="2"/>
<path d="M500.5 817.5 L506.2 819.2" fill="none" stroke="#fff" stroke-width="2.5"/>
<path d="M491.6 858.8 L499.3 860.8 L498.5 864.3 L491.6 862.2Z" fill="#fff" stroke="#fff" stroke-width="1"/>
<path d="M486.4 807.5 L500.2 807.2" fill="none" stroke="#fff" stroke-width="1"/>
<path d="M486.4 872 L496.7 872.3" fill="none" stroke="#fff" stroke-width="1"/>
<path d="M483.9 853.1 L486.1 855.7" fill="none" stroke="#fff" stroke-width="1.5"/>
<path d="M501 903.8 C499.2 902.2 493.6 895 489.9 893.8 C486.1 892.7 481.6 893.8 478.7 896.9 C475.8 900 473.2 906.1 472.3 912.4 C471.5 918.7 471.8 929.6 473.5 934.8 C475.3 939.9 478.8 942.1 483 943.4 C487.1 944.7 495.4 943.9 498.5 942.5 C501.6 941.1 501 936.1 501.6 934.8" fill="none" stroke="#000" stroke-width="5"/>
<path d="M498.5 910.7 C497.3 909.1 494.2 902.5 491.6 901.2 C489 899.9 485.4 900.2 483 903 C480.6 905.7 477.4 912.8 477 917.6 C476.5 922.3 478 928 480.4 931.3 C482.8 934.6 488.6 936.8 491.6 937.4 C494.6 937.9 497.3 935.2 498.5 934.8" fill="none" stroke="#000" stroke-width="3.5"/>
<ellipse cx="489.9" cy="919.3" rx="10.7" ry="11.7" fill="#000"/>
<path d="M508.8 907.3 L555.2 916.7 L557.3 922.7 L553.5 937.7 L508.8 931.7 L496.7 933.9 L496.7 910.7Z" fill="#000" stroke="#000" stroke-width="3"/>
<path d="M506.2 919.6 L515.3 923.6 L509.1 930 L506.2 927.9Z" fill="#fff" stroke="#fff" stroke-width="1"/>
<path d="M528.6 924.1 L549.4 924.8 L548.7 931.7 L528.6 931.3Z" fill="#fff" stroke="#fff" stroke-width="1"/>
<path d="M522.7 920.2 L522.7 931.3" fill="none" stroke="#fff" stroke-width="1.5"/>
<ellipse cx="510.5" cy="991.2" rx="29.6" ry="33" fill="#000"/>
<ellipse cx="506.2" cy="990.7" rx="19.3" ry="27" fill="#fff"/>
<path d="M497.1 986 C499 986.4 505.3 987 508.8 988.1 C512.3 989.1 516.7 991.7 518.2 992.4" fill="none" stroke="#000" stroke-width="7"/>
<path d="M497.1 988.9 L518.2 995.8 L518.2 993.2 L498.5 986.4Z" fill="#000" stroke="#000" stroke-width="1"/>
<path d="M393.3 1122.5 C395 1122.6 410.3 1125.2 413.9 1126.7 C417.6 1128.1 423 1132.7 424.7 1135.3 C426.4 1137.8 428.2 1145.2 428.6 1148.2 C429 1151.1 428.7 1157 428.1 1160.2 C427.6 1163.4 424.9 1172.8 423.8 1175.7 C422.8 1178.6 420.9 1182.9 419.1 1185.1 C417.4 1187.4 411.8 1193.7 408.8 1195 C405.8 1196.3 396.3 1196.6 393.3 1196.3 C390.3 1196 384.5 1194.6 383 1192.4 C381.5 1190.2 380.7 1181.6 380.4 1177.4 C380.2 1173.1 379.9 1160.2 380.8 1155.9 C381.7 1151.6 386 1143.9 388.2 1140.4 C390.3 1136.9 398.7 1127.9 399.3 1125.8 C399.9 1123.7 391.6 1122.4 393.3 1122.5Z" fill="#000" stroke="#000" stroke-width="2"/>
<path d="M407.1 1134.8 C407.5 1134.7 413 1139.3 413.9 1140.4 C414.9 1141.6 416.8 1144.3 417 1146.4 C417.1 1148.6 416.2 1159 415.7 1161.9 C415.1 1164.8 412.8 1173.3 411.4 1175.7 C409.9 1178 402.6 1184.5 401 1185.6 C399.5 1186.6 395.5 1187.5 395.9 1186 C396.3 1184.5 404 1173.9 405.3 1170.5 C406.7 1167.1 409.2 1154.5 409.6 1151.6 C410.1 1148.7 410.3 1142.9 410.1 1141.3 C409.8 1139.6 406.7 1134.9 407.1 1134.8Z" fill="#fff" stroke="#fff" stroke-width="1"/>
<path d="M390.7 1123 C388.6 1123.6 381.7 1123.9 377.8 1126.2 C374 1128.5 370 1132.7 367.5 1137 C365 1141.2 363.9 1146.9 362.8 1151.6 C361.7 1156.3 360.9 1160.8 361.1 1165.3 C361.2 1169.9 362.1 1175.1 363.6 1179.1 C365.2 1183.1 366.9 1187.3 370.1 1189.4 C373.3 1191.5 380.8 1191.4 383 1191.8" fill="none" stroke="#000" stroke-width="5"/>
<path d="M393.3 1123.6 L400.2 1124.5" fill="none" stroke="#000" stroke-width="4.5"/>
<path d="M443.2 1141.7 C446.7 1140.8 460.7 1141.1 464.7 1142.6 C468.7 1144 475.7 1151.3 477.6 1154.2 C479.4 1157 480.6 1163.6 480.6 1167.1 C480.6 1170.6 478.9 1180.5 477.6 1184.3 C476.2 1188.1 471.3 1196.9 469 1199.7 C466.7 1202.6 461.6 1208.4 457.8 1208.8 C454 1209.2 439.9 1204.9 436.3 1203.2 C432.7 1201.4 428.2 1196.7 426.8 1193.7 C425.4 1190.7 424 1181.3 424.3 1177.4 C424.6 1173.5 428.2 1163.4 429.4 1160.2 C430.6 1157 433 1152 434.6 1149.9 C436.2 1147.7 439.7 1142.6 443.2 1141.7Z" fill="#000" stroke="#000" stroke-width="2"/>
<ellipse cx="459.1" cy="1175.7" rx="15.5" ry="26.7" fill="#fff" transform="rotate(14 459.1 1175.7)"/>
<path d="M459.5 1163.2 C461.4 1163.4 468.2 1167.3 469 1169.6 C469.8 1172 467.9 1181 466.4 1183.4 C464.9 1185.8 457.9 1190 456.1 1189.9 C454.2 1189.8 450.9 1185.1 450.5 1182.5 C450.1 1180 451.6 1170.2 452.6 1167.9 C453.7 1165.7 457.6 1163 459.5 1163.2Z" fill="#000" stroke="#000" stroke-width="1"/>
<path d="M460.4 1168.8 L463 1173.5 L458.5 1182.1 L456.1 1176.5Z" fill="#fff" stroke="#fff" stroke-width="1"/>
<path d="M448.3 1146 C449.6 1145.5 452.4 1145.5 451.8 1146.6 C451.2 1147.7 443.8 1154.5 442.3 1157.2 C440.9 1159.8 437.6 1169.1 437.2 1173.1 C436.7 1177.1 438.5 1195.4 438 1197.2 C437.6 1198.9 433.7 1192.4 432.9 1190.3 C432 1188.1 429.9 1178.5 429.9 1175.7 C429.9 1172.8 432 1164.3 432.9 1161.9 C433.8 1159.5 437.3 1153.2 438.9 1151.6 C440.4 1150 447.1 1146.5 448.3 1146Z" fill="#fff" stroke="#fff" stroke-width="1"/>
<path d="M600.6 1191.5 C599.1 1191.7 587.6 1192.4 585.7 1194.1 C583.8 1195.8 581.2 1206.4 581.5 1208.5 C581.8 1210.6 587.3 1214 588.5 1215 C589.7 1216 593.2 1217.8 593.7 1218.1" fill="none" stroke="#000" stroke-width="6"/>
<path d="M592.2 1199.6 L590.9 1211.3" fill="none" stroke="#000" stroke-width="4"/>
<path d="M600.6 1191.5 C602.1 1189.4 614 1173.6 616.3 1171.1 C618.6 1168.6 619.4 1166.2 623.7 1166.3 C628 1166.4 653.3 1171.4 658.9 1171.9 C664.4 1172.3 675.4 1170.6 679.3 1170.9 C683.1 1171.3 695.9 1175.1 697.8 1175.6" fill="none" stroke="#000" stroke-width="6.5"/>
<path d="M600.6 1191.5 C600.2 1194.1 598.4 1208.8 597.8 1214.1 C597.2 1219.3 595.1 1232.2 595.6 1236.3 C596 1240.4 599.3 1246.7 601.5 1249.3 C603.7 1251.9 609.9 1256.7 614.4 1258.5 C619 1260.3 635.8 1262.3 640.4 1264.4 C644.9 1266.5 649.9 1274.8 653.3 1276.5 C656.8 1278.2 668.1 1278.9 670 1279.3" fill="none" stroke="#000" stroke-width="6.5"/>
<path d="M657 1177 C654.3 1181 644.4 1191.9 640.4 1201.1 C636.4 1210.4 633.5 1222.9 633 1232.6 C632.4 1242.3 636.4 1255 637 1259.4" fill="none" stroke="#000" stroke-width="6.5"/>
<path d="M659.3 1186.3 C656.8 1190.9 647.4 1205.4 644.4 1214.1 C641.5 1222.7 641.7 1231 641.7 1238.1 C641.7 1245.2 644 1253.6 644.4 1256.7" fill="none" stroke="#000" stroke-width="2.5"/>
<path d="M674.6 1173 C671.2 1176.7 658.9 1186.5 654.3 1195.6 C649.6 1204.6 647.9 1217.2 646.9 1227 C645.8 1236.9 646.8 1246.6 648.1 1254.8 C649.5 1263 654 1272.6 655.2 1276.1" fill="none" stroke="#000" stroke-width="10.5"/>
<path d="M687 1184.4 C684 1188.8 672.7 1200.8 668.5 1210.4 C664.4 1219.9 662 1232 662 1241.9 C662 1251.7 664.1 1261.9 668.5 1269.6 C672.9 1277.4 685.2 1285.4 688.5 1288.5" fill="none" stroke="#000" stroke-width="6.5"/>
<path d="M676.9 1186.3 C673.9 1190.9 663 1204.5 659.3 1214.1 C655.6 1223.6 654.6 1236 654.6 1243.7 C654.6 1251.4 657.4 1256.4 659.3 1260.4 C661.1 1264.4 664.7 1266.5 665.7 1267.8" fill="none" stroke="#000" stroke-width="3.5"/>
<path d="M673.7 1185.4 L688.5 1183.5" fill="none" stroke="#000" stroke-width="5"/>
<path d="M718.1 1175.6 C715.5 1178.9 706.5 1187.6 702.4 1195.6 C698.3 1203.5 695.6 1214.1 693.7 1223.3 C691.9 1232.6 691.3 1242.5 691.3 1251.1 C691.3 1259.8 691.5 1267.2 693.7 1275.2 C695.9 1283.2 700.2 1292.8 704.3 1299.3 C708.3 1305.7 715.8 1311.6 718.1 1314.1" fill="none" stroke="#000" stroke-width="12.5"/>
<path d="M697.8 1175.6 C702.7 1174.5 717.8 1170.3 727.4 1169.1 C737 1167.8 747.5 1168 755.2 1168.1 C762.9 1168.3 764.4 1168.1 773.7 1170 C783 1171.9 798.4 1176.5 810.7 1179.8 C823.1 1183.1 834.6 1186.4 847.8 1190 C861 1193.6 881 1199.1 890 1201.5 C899 1203.9 899.6 1204 901.5 1204.4" fill="none" stroke="#000" stroke-width="7"/>
<path d="M733 1178.9 C736.4 1177.9 743.5 1172.4 753.3 1172.8 C763.2 1173.1 772.8 1176.6 792.2 1181.1 C811.7 1185.6 857 1196.5 870 1199.6" fill="none" stroke="#000" stroke-width="3.5"/>
<path d="M718.1 1314.1 C737.6 1318.6 810.1 1335.1 834.8 1341.3 C859.5 1347.5 861 1349.8 866.3 1351.5" fill="none" stroke="#000" stroke-width="7"/>
<path d="M670 1279.3 C673.1 1281.7 683 1289.4 688.5 1294.1 C694.1 1298.7 698.4 1303.7 703.3 1307 C708.3 1310.4 715.7 1312.9 718.1 1314.1" fill="none" stroke="#000" stroke-width="6.5"/>
<path d="M890.4 1202.2 C888.5 1201.1 874.6 1200 870 1202.2 C865.4 1204.4 848.3 1218.2 844.1 1224.1 C839.8 1230 829.6 1253.7 827.4 1261.1 C825.2 1268.5 821.9 1291.5 821.9 1298.1 C821.9 1304.8 826.1 1323.5 827.4 1327.8 C828.7 1332.1 830.9 1338.8 834.8 1341.1 C838.7 1343.4 864.1 1351.3 866.3 1350.9 C868.5 1350.6 859.3 1339.7 857 1337.4 C854.8 1335.1 845.8 1330.8 844.1 1327.8 C842.3 1324.8 839.8 1312.2 839.4 1307.4 C839.1 1302.6 839 1286.1 840.4 1279.6 C841.8 1273.1 850 1248.7 853.3 1242.6 C856.7 1236.5 870.1 1221.8 873.7 1218.9 C877.3 1216 887.2 1215 888.9 1213.3 C890.6 1211.7 892.3 1203.3 890.4 1202.2Z" fill="#000" stroke="#000" stroke-width="2"/>
<path d="M983.3 1359 L989.7 1397.3 L970.3 1412.9 L971.5 1371Z" fill="#fff" stroke="#000" stroke-width="6.5"/>
<path d="M967.6 1374 L963.9 1416.6 L943.3 1424.2 L954.6 1381Z" fill="#fff" stroke="#000" stroke-width="6.5"/>
<path d="M950.4 1382.3 L936.8 1425.2 L916.7 1424.1 L937.4 1383.6Z" fill="#fff" stroke="#000" stroke-width="6.5"/>
<path d="M933.5 1383.1 L910.6 1422.3 L892.8 1412.5 L921.6 1378.6Z" fill="#fff" stroke="#000" stroke-width="6.5"/>
<path d="M918.2 1376.3 L887.7 1408.1 L873.8 1390.5 L908.5 1366.5Z" fill="#fff" stroke="#000" stroke-width="6.5"/>
<path d="M906 1362.6 L870.2 1383.9 L861.4 1360 L899.4 1348.3Z" fill="#fff" stroke="#000" stroke-width="6.5"/>
<path d="M897.8 1343.2 L859.5 1351.8 L856.6 1323.9 L894.9 1325.6Z" fill="#fff" stroke="#000" stroke-width="6.5"/>
<path d="M894.6 1319.7 L856.7 1314.7 L860 1285.1 L895.5 1300.5Z" fill="#fff" stroke="#000" stroke-width="6.5"/>
<path d="M896.5 1294.4 L862 1275.9 L871.2 1247.3 L901.2 1275.2Z" fill="#fff" stroke="#000" stroke-width="6.5"/>
<path d="M903.3 1269.4 L874.9 1238.8 L889.1 1213.8 L911.5 1252Z" fill="#fff" stroke="#000" stroke-width="6.5"/>
<path d="M914.5 1246.9 L894.3 1206.7 L912.3 1187.5 L925.4 1232.8Z" fill="#fff" stroke="#000" stroke-width="6.5"/>
<path d="M929.1 1229 L918.4 1182.5 L938.6 1170.8 L941.6 1219.4Z" fill="#fff" stroke="#000" stroke-width="6.5"/>
<path d="M945.7 1217.2 L945.2 1168.4 L965.8 1165.1 L958.9 1213.1Z" fill="#fff" stroke="#000" stroke-width="6.5"/>
<path d="M963 1212.7 L972.1 1165.5 L991.3 1171.1 L975.5 1214.3Z" fill="#fff" stroke="#000" stroke-width="6.5"/>
<path d="M979.3 1215.7 L997 1174.2 L1013 1188.1 L990.2 1222.9Z" fill="#fff" stroke="#000" stroke-width="6.5"/>
<path d="M993.2 1226 L1017.4 1193.6 L1028.9 1214.6 L1001.4 1238.3Z" fill="#fff" stroke="#000" stroke-width="6.5"/>
<path d="M1003.5 1242.8 L1031.6 1222.1 L1037.5 1248.3 L1008.3 1258.9Z" fill="#fff" stroke="#000" stroke-width="6.5"/>
<path d="M1009.2 1264.5 L1038.5 1257.1 L1038.2 1286.1 L1010.2 1283.1Z" fill="#fff" stroke="#000" stroke-width="6.5"/>
<path d="M1012.7 1312.7 C1011.5 1317.4 1010 1322.2 1008.4 1326.7 C1006.8 1331.3 1004.9 1335.8 1002.8 1340 C1000.7 1344.3 998.5 1348.4 996 1352.3 C993.6 1356.2 990.9 1359.9 988.2 1363.3 C985.5 1366.6 982.5 1369.8 979.6 1372.6 C976.6 1375.4 973.4 1378 970.3 1380.1 C967.1 1382.3 963.9 1384.1 960.6 1385.6 C957.4 1387.1 954 1388.2 950.8 1388.9 C947.5 1389.7 944.2 1390.1 941 1390 C937.9 1390 934.7 1389.6 931.6 1388.9 C928.6 1388.1 925.6 1387 922.8 1385.5 C920 1384 917.2 1382.1 914.7 1379.9 C912.2 1377.8 909.8 1375.2 907.6 1372.4 C905.4 1369.6 903.4 1366.4 901.6 1363 C899.9 1359.6 898.3 1355.9 897 1352 C895.6 1348.1 894.6 1344 893.7 1339.7 C892.9 1335.4 892.3 1330.9 892 1326.4 C891.6 1321.8 891.5 1317.1 891.7 1312.3 C891.9 1307.6 892.4 1302.8 893 1298 C893.7 1293.2 894.7 1288.3 895.9 1283.6 C897 1278.9 898.5 1274.1 900.1 1269.6 C901.8 1265 903.6 1260.5 905.7 1256.3 C907.8 1252 910.1 1247.9 912.5 1244 C914.9 1240.1 917.6 1236.4 920.3 1233 C923.1 1229.7 926 1226.5 929 1223.7 C932 1220.9 935.1 1218.3 938.2 1216.2 C941.4 1214 944.7 1212.2 947.9 1210.7 C951.2 1209.2 954.5 1208.1 957.7 1207.3 C961 1206.6 964.3 1206.2 967.5 1206.2 C970.7 1206.3 973.8 1206.6 976.9 1207.4 C979.9 1208.2 982.9 1209.3 985.7 1210.8 C988.6 1212.3 991.3 1214.2 993.8 1216.3 C996.4 1218.5 998.8 1221.1 1000.9 1223.9 C1003.1 1226.7 1005.1 1229.9 1006.9 1233.3 C1008.7 1236.7 1010.2 1240.4 1011.6 1244.3 C1012.9 1248.2 1014 1252.3 1014.8 1256.6 C1015.6 1260.9 1016.2 1265.4 1016.6 1269.9 C1016.9 1274.5 1017 1279.2 1016.8 1284 C1016.6 1288.7 1016.2 1293.5 1015.5 1298.3 C1014.8 1303.1 1013.8 1308 1012.7 1312.7Z" fill="#000" stroke="#000" stroke-width="2"/>
<path d="M1005.2 1259.3 L1028.3 1268.5 L1083.9 1285.2 L1051.5 1298.1 L1033 1335.2 L1044.1 1389.8 L991.3 1381.1 L964.4 1372.2 L964.4 1279.6Z" fill="#000" stroke="#000" stroke-width="3"/>
<ellipse cx="1068.5" cy="1343.5" rx="39.3" ry="51.9" fill="#fff" stroke="#000" stroke-width="7" transform="rotate(10 1068.5 1343.5)"/>
<path d="M1041.3 1326.9 C1042 1323.5 1050.2 1317.6 1053.3 1316.7 C1056.5 1315.7 1076 1314.5 1079.3 1315.7 C1082.5 1317 1091.6 1328.8 1092.6 1331.5 C1093.6 1334.2 1092.5 1345.5 1091.7 1348.1 C1090.8 1350.8 1085.2 1361.9 1082 1363.3 C1078.8 1364.8 1056.4 1365.7 1053.3 1365.2 C1050.2 1364.7 1046 1360.6 1045 1357.4 C1044 1354.2 1040.6 1330.2 1041.3 1326.9Z" fill="#000" stroke="#000" stroke-width="3"/>
<ellipse cx="1073.7" cy="1342.6" rx="11.7" ry="18.1" fill="#fff" transform="rotate(14 1073.7 1342.6)"/>
<path d="M1051.5 1333.3 L1057 1324.4" fill="none" stroke="#fff" stroke-width="2"/>
<path d="M1050.7 1350 L1053 1355.6" fill="none" stroke="#fff" stroke-width="1.5"/>
<path d="M952.4 1233.3 C954.4 1233.6 961 1233.8 964.4 1234.8 C967.8 1235.8 971.4 1238.5 972.8 1239.3" fill="none" stroke="#fff" stroke-width="2"/>
<path d="M951.5 1250 C953 1250.2 958.3 1250.7 960.7 1251.5 C963.2 1252.3 965.4 1254.1 966.3 1254.6" fill="none" stroke="#fff" stroke-width="2"/>
<path d="M947.8 1266.7 C948.9 1265.6 951.2 1260.8 954.3 1260.2 C957.3 1259.6 963.8 1261.9 966.3 1263 C968.8 1264 968.6 1266 969.1 1266.7" fill="none" stroke="#fff" stroke-width="3.5"/>
<path d="M957 1280.6 C955.8 1282.3 951.4 1287.2 949.6 1290.7 C947.8 1294.3 946.9 1300 946.3 1301.9" fill="none" stroke="#fff" stroke-width="3"/>
<path d="M933.9 1280.6 L931.1 1292.6" fill="none" stroke="#fff" stroke-width="3"/>
<path d="M929.6 1313 C930.2 1314.8 931.5 1321.1 933.3 1324.1 C935.1 1327 939.2 1329.5 940.4 1330.6" fill="none" stroke="#fff" stroke-width="3"/>
<path d="M932 1338.9 C933.1 1339.2 936.8 1340.7 938.5 1340.7 C940.2 1340.8 941.6 1339.5 942.2 1339.3" fill="none" stroke="#fff" stroke-width="2.5"/>
<path d="M925.2 1352.8 C926.2 1353.2 929 1355 931.1 1355.6 C933.2 1356.1 936.5 1355.9 937.6 1355.9" fill="none" stroke="#fff" stroke-width="2.5"/>
<path d="M922.2 1382.4 C924.3 1383 930.9 1385.8 934.8 1386.1 C938.8 1386.4 944.1 1384.6 945.9 1384.3" fill="none" stroke="#fff" stroke-width="2"/>
<path d="M947.8 1219.4 C949.9 1218.7 955.8 1214.5 960.7 1214.8 C965.7 1215.1 974.6 1220.2 977.4 1221.3" fill="none" stroke="#fff" stroke-width="1.5"/>
<path d="M949.6 1208.9 C952.4 1208.3 960.7 1205.2 966.3 1205.6 C971.9 1205.9 979 1209.3 983 1211.1 C987 1213 989.1 1215.7 990.4 1216.7" fill="none" stroke="#fff" stroke-width="1.5"/>
<path d="M907 1275.9 L904.3 1287" fill="none" stroke="#fff" stroke-width="2"/>
<path d="M915.4 1252.8 L912.6 1261.1" fill="none" stroke="#fff" stroke-width="2"/>
<path d="M901.1 1325 L901.5 1333.3" fill="none" stroke="#fff" stroke-width="2.5"/>
<path d="M925.6 1239.8 L928.3 1237" fill="none" stroke="#fff" stroke-width="2.5"/>
<path d="M962.2 1214.8 L963 1218.9" fill="none" stroke="#fff" stroke-width="3"/>
<path d="M975.6 1220 L978.5 1222.2" fill="none" stroke="#fff" stroke-width="3"/>
<path d="M908.5 1370.4 L914.4 1376.9" fill="none" stroke="#fff" stroke-width="1.5"/>
<path d="M930.2 1372.2 L935.7 1375.9" fill="none" stroke="#fff" stroke-width="3"/>
<path d="M947.8 1371.3 L952.4 1371.3" fill="none" stroke="#fff" stroke-width="2"/>
<path d="M924.6 1261.1 C925.4 1259.9 927.7 1255.6 929.3 1253.7 C930.8 1251.9 933.1 1250.6 933.9 1250" fill="none" stroke="#fff" stroke-width="1.5"/>
<path d="M977.4 1259.3 L977.8 1265.7" fill="none" stroke="#fff" stroke-width="1.5"/>
<path d="M986.7 1253.7 L988.5 1261.1" fill="none" stroke="#fff" stroke-width="1.5"/>
<path d="M1364.3 1240.1 L1349.5 1246.5 L1347.4 1253.9 L1324.1 1272.9 L1317.8 1275.5 L1318.2 1285.6 L1311.4 1296.2 L1304 1307.9 L1291.3 1307.2 L1290.2 1315.3 L1295.5 1319.5 L1297.6 1323.7 L1284.9 1326.9 L1281.8 1332.2 L1288.1 1338.6 L1297.6 1342.8 L1286 1342.8 L1283.9 1355.5 L1277.5 1383 L1287.1 1384.1 L1271.2 1393.6 L1268.6 1402.1 L1281.8 1407.4 L1269.1 1415.9 L1270.1 1422.2 L1281.8 1426.4 L1284.9 1450.8 L1282.8 1458.2 L1291.3 1465.6 L1300.8 1484.7 L1301.9 1492.1 L1313.5 1500.5 L1319.9 1493.1 L1311.4 1463.5 L1305.5 1431.7 L1304.6 1378.8 L1313.5 1330.1 L1332.6 1283.5 L1349.5 1260.2 L1364.3 1249.6Z" fill="#000" stroke="#000" stroke-width="3"/>
<path d="M1336.8 1268.7 L1351.6 1259.2 L1356.9 1261.3 L1341 1274Z" fill="#fff" stroke="#fff" stroke-width="1"/>
<path d="M1323 1281.4 L1333.6 1282.5 L1333.6 1284.6 L1323 1283.5Z" fill="#fff" stroke="#fff" stroke-width="1"/>
<path d="M1317.8 1293 L1330.5 1290.9 L1319.9 1306.8 L1312.5 1306.8Z" fill="#fff" stroke="#fff" stroke-width="1"/>
<path d="M1302.9 1323.7 L1309.3 1324.8 L1309.3 1326.9 L1302.9 1325.9Z" fill="#fff" stroke="#fff" stroke-width="1"/>
<path d="M1295.5 1344.9 L1300.8 1344.9 L1292.3 1387.3 L1288.1 1387.3Z" fill="#fff" stroke="#fff" stroke-width="1"/>
<path d="M1289.2 1431.7 L1295.5 1433.8 L1298.7 1446.6 L1292.3 1444.4Z" fill="#fff" stroke="#fff" stroke-width="1"/>
<path d="M1290.2 1455 L1299.8 1457.1 L1299.8 1459.3 L1290.2 1457.1Z" fill="#fff" stroke="#fff" stroke-width="1"/>
<path d="M1298.7 1465.6 L1306.1 1477.3 L1305 1479.4 L1298.3 1467.7Z" fill="#fff" stroke="#fff" stroke-width="1"/>
<path d="M1360.1 1251.8 C1356.6 1256.3 1345.6 1267.6 1338.9 1279.3 C1332.2 1290.9 1324.4 1305 1319.9 1321.6 C1315.4 1338.2 1313.1 1360.4 1311.8 1378.8 C1310.6 1397.1 1311.1 1416.6 1312.5 1431.7 C1313.8 1446.9 1316.9 1459.6 1319.9 1469.8 C1322.9 1480.1 1328.7 1489.2 1330.5 1493.1" fill="none" stroke="#000" stroke-width="6.5"/>
<path d="M1370.7 1263.4 C1367.2 1267.5 1355.7 1278.4 1349.5 1287.8 C1343.3 1297.1 1336.3 1314.2 1333.6 1319.5" fill="none" stroke="#fff" stroke-width="1.5"/>
<path d="M1317.3 1410.6 C1317.8 1416.9 1318 1437.7 1319.9 1448.7 C1321.7 1459.6 1326.9 1471.6 1328.3 1476.2" fill="none" stroke="#fff" stroke-width="1.5"/>
<path d="M1364.3 1240.5 C1368.2 1240 1378.4 1237.2 1387.6 1237.4 C1396.8 1237.5 1407 1238.6 1419.4 1241.6 C1431.7 1244.6 1451.1 1249.4 1461.7 1255.4 C1472.3 1261.4 1477.6 1268.2 1482.9 1277.6 C1488.2 1286.9 1491 1299.9 1493.5 1311.5 C1496 1323 1497.7 1334.1 1497.7 1347 C1497.7 1360 1496.7 1375.3 1493.5 1389.4 C1490.3 1403.5 1484.7 1418.7 1478.7 1431.7 C1472.7 1444.8 1465.6 1456.4 1457.5 1467.7 C1449.4 1479 1439.1 1491.6 1430 1499.5 C1420.8 1507.3 1411.6 1511.8 1402.4 1514.7 C1393.3 1517.6 1385.2 1517.9 1374.9 1516.8 C1364.7 1515.8 1351.3 1511.2 1341 1508.4 C1330.8 1505.6 1320 1503.1 1313.5 1499.9 C1307 1496.7 1303.8 1491.1 1301.9 1489.3" fill="none" stroke="#000" stroke-width="8.5"/>
<path d="M1364.3 1247.5 C1368.2 1247.3 1378.8 1244.9 1387.6 1246.5 C1396.4 1248.1 1412.3 1255.3 1417.3 1257.1" fill="none" stroke="#000" stroke-width="9"/>
<path d="M1417.3 1258.1 C1414.1 1259 1404.6 1260.8 1398.2 1263.4 C1391.9 1266.1 1387 1266.4 1379.2 1274 C1371.3 1281.6 1359 1295 1351.2 1308.9 C1343.4 1322.9 1336.6 1340.7 1332.2 1357.6 C1327.7 1374.6 1325.1 1394 1324.7 1410.6 C1324.4 1427.1 1327.2 1444.4 1330 1457.1 C1332.8 1469.9 1337 1480.2 1341.5 1487.2 C1345.9 1494.2 1354.3 1497.1 1356.9 1499.1" fill="none" stroke="#000" stroke-width="11.5"/>
<path d="M1356.9 1498.4 C1360.3 1497.5 1369.5 1498.2 1377 1493.1 C1384.6 1488 1395.4 1476.2 1402.4 1467.7 C1409.5 1459.3 1414.1 1451.8 1419.4 1442.3 C1424.7 1432.8 1431.7 1415.9 1434.2 1410.6" fill="none" stroke="#000" stroke-width="7"/>
<path d="M1417.3 1258.1 C1419.4 1259.9 1425.7 1263.1 1430 1269.1 C1434.2 1275.2 1439.7 1285.1 1442.7 1294.5 C1445.7 1304 1446.9 1316.8 1448 1325.9 C1449 1335 1448.8 1345.3 1449 1349.2" fill="none" stroke="#000" stroke-width="6"/>
<path d="M1434.2 1258.1 C1435.9 1260.6 1446.3 1273.7 1449 1279.7 C1451.7 1285.7 1456.3 1302.2 1457.5 1309.3 C1458.7 1316.5 1459.3 1337.2 1459 1341.1 C1458.6 1345 1454.9 1342.6 1454.3 1342.8" fill="none" stroke="#000" stroke-width="6"/>
<path d="M1441.6 1421.1 C1439 1426.8 1433 1443.7 1425.7 1455 C1418.5 1466.4 1407.4 1480.8 1398.2 1489.3 C1389 1497.9 1375.3 1503.4 1370.7 1506.3" fill="none" stroke="#000" stroke-width="6"/>
<path d="M1434.2 1410.6 L1443.7 1421.1" fill="none" stroke="#000" stroke-width="5"/>
<path d="M1449 1349.2 C1446.3 1349.7 1429.4 1352 1425.7 1353.8 C1422 1355.6 1418.5 1360.2 1417.3 1364.4 C1416 1368.5 1413.2 1384.4 1415.1 1389.4 C1417.1 1394.3 1430.3 1404.5 1434.2 1406.7 C1438.2 1409 1446.7 1410.9 1449 1408.9 C1451.4 1406.8 1453.1 1395.4 1454.3 1389.4 C1455.6 1383.4 1459.6 1363.1 1459.6 1357.6 C1459.6 1352.2 1454.9 1344.5 1454.3 1342.8" fill="none" stroke="#000" stroke-width="6.5"/>
<path d="M1438.4 1358.7 C1437.1 1362.4 1431.6 1374.3 1430.4 1380.9 C1429.2 1387.5 1431.3 1395.4 1431.5 1398.3" fill="none" stroke="#000" stroke-width="5"/>
<path d="M1451.1 1357.6 C1449.4 1360.2 1443 1366.9 1440.6 1372.9 C1438.2 1378.9 1436.4 1388.3 1436.7 1393.6 C1437.1 1398.9 1441.7 1402.8 1442.7 1404.6" fill="none" stroke="#000" stroke-width="5"/>
<path d="M1522.4 1324.8 C1524.9 1324.4 1534.7 1325.2 1540.9 1321.4 C1547.1 1317.5 1560.7 1300.7 1568.7 1295.9 C1576.7 1291.1 1593.1 1286.9 1601.1 1285.5 C1609.1 1284.1 1616.5 1283.1 1628.9 1285.3 C1641.2 1287.4 1681.3 1295.7 1693.7 1301.7 C1706 1307.8 1715.9 1324.3 1721.4 1330.6 C1727 1337 1732.2 1344.8 1735.3 1349.1 C1738.5 1353.5 1743.9 1357.5 1745 1363 C1746.2 1368.5 1744.6 1385.4 1743.9 1390.3 C1743.2 1395.3 1741 1391.4 1739.9 1400.1 C1738.9 1408.7 1738.2 1441.6 1735.8 1455.1 C1733.3 1468.7 1724.9 1492.2 1721.4 1501.4 C1718 1510.7 1711.6 1519.3 1709.9 1524.6 C1708.1 1529.8 1709.5 1537.9 1708 1540.8 C1706.5 1543.6 1703.3 1543.3 1698.3 1545.9 C1693.3 1548.4 1678.2 1555.7 1670.5 1559.7 C1662.8 1563.8 1649.1 1572.9 1640.4 1575.9 C1631.8 1579 1612.8 1582.3 1605.7 1582.9 C1598.6 1583.5 1593.4 1581.8 1587.2 1580.6 C1581 1579.3 1566.8 1576.4 1559.4 1573.6 C1552 1570.9 1538.4 1563.8 1531.7 1559.7 C1524.9 1555.7 1512.8 1548.2 1508.5 1543.5 C1504.2 1538.9 1500.5 1527.1 1499.3 1524.6" fill="none" stroke="#000" stroke-width="5"/>
<path d="M1522.4 1324.8 C1521.3 1327.3 1516.4 1334.3 1515.9 1339.4 C1515.4 1344.6 1514.1 1351.9 1519.4 1355.6 C1524.7 1359.4 1543.1 1360.8 1547.9 1361.9" fill="none" stroke="#000" stroke-width="5.5"/>
<path d="M1519.4 1360.7 C1516.8 1366.8 1507.9 1382.3 1503.9 1397.3 C1499.8 1412.3 1496.6 1436.2 1495.1 1450.5 C1493.6 1464.8 1490.8 1475.9 1495.1 1482.9 C1499.3 1489.9 1516.3 1491 1520.5 1492.6" fill="none" stroke="#000" stroke-width="5"/>
<path d="M1520.5 1492.6 C1518.4 1492 1502.4 1486.8 1499.3 1486.4 C1496.1 1486 1490.1 1487.4 1488.8 1488.7 C1487.5 1490 1486.4 1496.5 1486.3 1499.1 C1486.2 1501.8 1486.6 1513.1 1487.7 1515.3 C1488.8 1517.5 1494.4 1520.2 1496.9 1521.1 C1499.5 1522 1511.5 1524.2 1513.1 1524.6" fill="none" stroke="#000" stroke-width="5"/>
<path d="M1499.3 1524.6 L1508.5 1543.5" fill="none" stroke="#000" stroke-width="5"/>
<path d="M1522.4 1324.8 C1526.3 1325.2 1538.2 1325.8 1545.5 1327.2 C1552.9 1328.5 1562.9 1332 1566.4 1332.9" fill="none" stroke="#000" stroke-width="5"/>
<path d="M1547.9 1361.9 C1547.2 1359.3 1543.2 1350.8 1543.7 1346.4 C1544.2 1341.9 1547.2 1337.7 1550.6 1335.3 C1554.1 1332.8 1561.1 1329.9 1564.5 1331.8 C1567.9 1333.6 1570.7 1341.8 1571 1346.4 C1571.3 1350.9 1567.1 1357 1566.4 1359.1" fill="none" stroke="#000" stroke-width="5"/>
<ellipse cx="1561.7" cy="1348.7" rx="6.9" ry="8.3" fill="#000" stroke="#000" stroke-width="5"/>
<path d="M1520.5 1492.6 C1519.2 1495.6 1513.2 1505.4 1512.4 1510.7 C1511.7 1516 1513 1521.8 1515.9 1524.6 C1518.8 1527.3 1525.8 1529.7 1529.8 1527.3 C1533.9 1525 1537.2 1515.8 1540.2 1510.7 C1543.2 1505.6 1546.6 1499.1 1547.9 1496.8" fill="none" stroke="#000" stroke-width="5.5"/>
<ellipse cx="1529.3" cy="1513" rx="6" ry="6.9" fill="#000"/>
<path d="M1540.9 1321.4 C1545.5 1322.5 1561 1328.7 1568.7 1327.9 C1576.4 1327 1579.5 1320.9 1587.2 1316.3 C1594.9 1311.7 1610.3 1302.8 1615 1300.1" fill="none" stroke="#000" stroke-width="4"/>
<path d="M1626.5 1299.6 C1636.6 1296.8 1646.2 1293.8 1656.6 1295 C1667 1296.2 1679.8 1300.4 1689 1306.6 C1698.3 1312.7 1706.3 1322.7 1712.2 1332 C1718 1341.4 1721.4 1349.8 1724.2 1362.6 C1727 1375.4 1729.6 1392.7 1728.8 1408.9 C1728.1 1425.1 1724.6 1443.5 1719.6 1459.8 C1714.6 1476 1706.8 1492.6 1698.7 1506.5 C1690.6 1520.5 1680.7 1533.9 1671 1543.5 C1661.3 1553.2 1651.3 1560.1 1640.4 1564.4 C1629.6 1568.6 1616.1 1569.8 1605.7 1569 C1595.3 1568.2 1586.8 1565.1 1577.9 1559.7 C1569.1 1554.3 1559.4 1546.2 1552.5 1536.6 C1545.5 1527 1540.1 1514.6 1536.3 1501.9 C1532.4 1489.2 1529.9 1474.2 1529.3 1460.2 C1528.8 1446.3 1529.7 1433.2 1532.8 1418.1 C1535.9 1403.1 1541.9 1383.5 1547.9 1370 C1553.8 1356.5 1560.6 1346.8 1568.7 1337.1 C1576.8 1327.5 1586.8 1318.4 1596.5 1312.1 C1606.1 1305.9 1616.5 1302.5 1626.5 1299.6Z" fill="#000" stroke="#000" stroke-width="6"/>
<path d="M1730.7 1344.1 C1732.6 1345.2 1739.7 1347.1 1742.3 1351 C1744.8 1354.9 1745.5 1360.6 1745.7 1367.2 C1745.9 1373.8 1745.1 1385.5 1743.4 1390.3 C1741.7 1395.2 1736.7 1395.2 1735.3 1396.1" fill="none" stroke="#000" stroke-width="8"/>
<path d="M1700.6 1515.8 C1703.1 1515.3 1708.2 1514.2 1709.9 1517.6 C1711.5 1521 1712.1 1531.5 1710.3 1536.1 C1708.6 1540.8 1702.2 1546.2 1699.4 1545.4 C1696.7 1544.6 1694.4 1535.7 1693.7 1531.5 C1692.9 1527.3 1693.7 1523 1694.8 1520.4 C1696 1517.8 1698.1 1516.2 1700.6 1515.8Z" fill="#000" stroke="#000" stroke-width="5"/>
<path d="M1699.4 1519.9 L1702.9 1518.1" fill="none" stroke="#fff" stroke-width="2"/>
<path d="M1597.6 1359.1 L1630 1327.9 L1635.8 1362.6Z" fill="#fff" stroke="#fff" stroke-width="1"/>
<path d="M1564.1 1432 L1569.8 1418.1 L1582.6 1401.9 L1589.5 1385.7 L1591.8 1441.3 L1564.1 1444.7Z" fill="#fff" stroke="#fff" stroke-width="1"/>
<path d="M1561.7 1452.8 L1582.6 1450.5 L1582.6 1463.2 L1565.2 1464.4Z" fill="#fff" stroke="#fff" stroke-width="1"/>
<path d="M1565.2 1492.2 L1573.3 1489.9 L1591.8 1501.4 L1619.6 1503.7 L1616.1 1561.6 L1596.5 1557 L1594.1 1538.5 L1582.6 1531.5 L1566.4 1526.9Z" fill="#fff" stroke="#fff" stroke-width="1"/>
<path d="M1626.5 1501.4 L1633.5 1501.4 L1640.4 1526.9 L1628.9 1533.8Z" fill="#fff" stroke="#fff" stroke-width="1"/>
<path d="M1675.1 1442.4 L1706.4 1436.6 L1702.9 1455.1 L1693.7 1471.3 L1661.3 1479.4 L1652 1501.4 L1642.7 1524.6 L1634.6 1503.7 L1652 1476 L1661.3 1455.1Z" fill="#fff" stroke="#fff" stroke-width="1"/>
<path d="M1685.6 1390.3 L1707.5 1399.6 L1711 1427.4 L1685.6 1429.7Z" fill="#fff" stroke="#fff" stroke-width="1"/>
<path d="M1664 1381.1 L1675.1 1378.8 L1675.1 1420.4 L1664 1413.5Z" fill="#fff" stroke="#fff" stroke-width="1"/>
<path d="M1723.7 1381.1 L1738.8 1376.5 L1738.8 1383.9 L1724.9 1390.8Z" fill="#fff" stroke="#fff" stroke-width="1"/>
<path d="M1638.1 1325.5 L1647.4 1323.2 L1640.4 1362.6 L1635.8 1361.4Z" fill="#fff" stroke="#fff" stroke-width="1"/>
<path d="M1652 1325.5 L1655.5 1325.5 L1660.1 1367.2 L1652 1362.6Z" fill="#fff" stroke="#fff" stroke-width="1"/>
<path d="M1675.1 1488.7 L1698.3 1479.4 L1692.5 1501.4 L1678.6 1521.1 L1669.4 1524.6 L1672.8 1506.1Z" fill="#fff" stroke="#fff" stroke-width="1"/>
<path d="M1628.9 1392.7 C1629.7 1391.3 1638.9 1402.9 1640.4 1408.9 C1642 1414.8 1643.4 1436.3 1642 1443.6 C1640.7 1450.9 1632.3 1467 1628.9 1471.3 C1625.4 1475.7 1612.7 1483.2 1612.7 1481.1 C1612.7 1478.9 1626.5 1459.9 1628.9 1452.8 C1631.2 1445.8 1632.8 1427.4 1632.8 1420.4 C1632.8 1413.4 1628 1394 1628.9 1392.7Z" fill="#fff" stroke="#fff" stroke-width="1"/>
<ellipse cx="1611.5" cy="1432" rx="15.7" ry="46.3" fill="#fff" transform="rotate(8 1611.5 1432)"/>
<path d="M1627.7 1305.2 C1632.5 1304.4 1646.8 1299.8 1656.6 1300.5 C1666.5 1301.3 1681.7 1308.3 1686.7 1309.8" fill="none" stroke="#fff" stroke-width="4"/>
<path d="M1577.9 1339.4 C1580.6 1337.1 1588.4 1329.6 1594.1 1325.5 C1599.9 1321.5 1609.6 1316.9 1612.7 1315.1" fill="none" stroke="#fff" stroke-width="2.5"/>
<path d="M1566.4 1357.9 C1564.2 1363.9 1556.9 1383.8 1553.6 1393.8 C1550.4 1403.8 1548.6 1405.6 1546.7 1418.1 C1544.8 1430.6 1541.9 1453.6 1542.1 1469 C1542.3 1484.5 1546.9 1503.7 1547.9 1510.7" fill="none" stroke="#fff" stroke-width="8"/>
<path d="M1582.6 1346.4 C1579.9 1351 1570.6 1363.7 1566.4 1374.1 C1562.1 1384.6 1558.7 1403.1 1557.1 1408.9" fill="none" stroke="#fff" stroke-width="4"/>
<path d="M1705.2 1339.4 C1707.3 1344.4 1715.1 1357.9 1718 1369.5 C1720.8 1381.1 1722.4 1395.4 1722.6 1408.9 C1722.8 1422.4 1720.8 1438.9 1719.1 1450.5 C1717.4 1462.1 1714.9 1469.4 1712.2 1478.3 C1709.5 1487.2 1704.5 1499.5 1702.9 1503.7" fill="none" stroke="#fff" stroke-width="5"/>
<path d="M1628.9 1552.8 C1630.8 1553.7 1633.5 1560.1 1640.4 1558.1 C1647.4 1556.1 1662.8 1546.4 1670.5 1540.8 C1678.2 1535.2 1684 1527.3 1686.7 1524.6" fill="none" stroke="#fff" stroke-width="4"/>
<path d="M1545.5 1519.9 C1546.7 1523.8 1550.2 1538.5 1552.5 1543.1 C1554.8 1547.7 1558.3 1546.9 1559.4 1547.7" fill="none" stroke="#fff" stroke-width="5"/>
<path d="M1689 1323.2 C1690.6 1325.2 1694.4 1329 1698.3 1334.8 C1702.1 1340.6 1709.9 1354.1 1712.2 1357.9" fill="none" stroke="#fff" stroke-width="2.5"/>
<path d="M1670.5 1374.1 L1698.3 1378.8" fill="none" stroke="#fff" stroke-width="2.5"/>
<path d="M1693.7 1395 L1705.2 1403.1" fill="none" stroke="#000" stroke-width="3"/>
<path d="M1598.8 1367.2 L1605.7 1364.9" fill="none" stroke="#fff" stroke-width="3"/>
<path d="M1598.8 1390.3 L1615 1376.5" fill="none" stroke="#fff" stroke-width="3"/>
<path d="M1543.2 1487.5 L1557.1 1489.9" fill="none" stroke="#fff" stroke-width="4"/>
<path d="M1679.8 1479.4 C1682.9 1478.5 1693.8 1477.1 1698.3 1473.7 C1702.7 1470.2 1705 1461.1 1706.4 1458.6" fill="none" stroke="#fff" stroke-width="1.5"/>
<path d="M1626.5 1550 L1638.1 1557" fill="none" stroke="#fff" stroke-width="5"/>
<path d="M1571 1539.6 L1574.5 1541.9" fill="none" stroke="#fff" stroke-width="3"/>
<path d="M1775.5 1364 L1838.1 1334.3 L1848.3 1348.9 L1785.7 1379.4Z" fill="#fff" stroke="#000" stroke-width="5.5"/>
<ellipse cx="1777.8" cy="1373.6" rx="6.4" ry="11.1" fill="#fff" stroke="#000" stroke-width="5" transform="rotate(-25 1777.8 1373.6)"/>
<path d="M1836.6 1334.9 C1838.3 1335.5 1844.6 1335.9 1846.8 1338.7 C1849 1341.5 1850.2 1349.1 1849.7 1351.8 C1849.2 1354.4 1844.9 1354.2 1843.9 1354.7" fill="none" stroke="#000" stroke-width="5"/>
<path d="M1833.7 1340.1 L1839.5 1354.7" fill="none" stroke="#000" stroke-width="3"/>
<path d="M2367.8 960.4 C2373 958.9 2398 950.4 2407.3 948.9 C2416.7 947.3 2423.6 946.3 2437.7 948.9 C2451.9 951.4 2478.8 959.8 2513.8 968 C2548.8 976.3 2663.5 1001.7 2700 1010.6 C2736.5 1019.5 2767.8 1029.3 2787.6 1035 C2807.4 1040.6 2840.3 1050.8 2848.5 1053.2" fill="none" stroke="#000" stroke-width="4.6"/>
<path d="M2407.3 948.9 C2398.7 951.8 2371.8 957 2355.6 966.5 C2339.4 976 2322.1 990.8 2310 1006.1 C2297.8 1021.3 2289.2 1040 2282.6 1057.8 C2276 1075.5 2272.5 1095.3 2270.4 1112.5 C2268.4 1129.8 2267.9 1146 2270.4 1161.2 C2273 1176.4 2279 1190.1 2285.6 1203.8 C2292.2 1217.5 2301.4 1232.2 2310 1243.4 C2318.6 1254.5 2329.7 1265.2 2337.4 1270.7 C2345 1276.3 2352.6 1275.8 2355.6 1276.8" fill="none" stroke="#000" stroke-width="4.3"/>
<path d="M2285.6 1027.4 C2284.4 1030.9 2280.3 1043.1 2278 1048.6 C2275.7 1054.2 2274.7 1051.7 2271.9 1060.8 C2269.2 1069.9 2263.6 1092.8 2261.3 1103.4 C2259 1114.1 2258.3 1117.1 2258.3 1124.7 C2258.3 1132.3 2259.3 1140.9 2261.3 1149 C2263.3 1157.2 2265.9 1161.7 2270.4 1173.4 C2275 1185 2281.1 1204.8 2288.7 1219 C2296.3 1233.2 2307.9 1249.7 2316.1 1258.6 C2324.2 1267.4 2333.8 1270 2337.4 1272.3" fill="none" stroke="#000" stroke-width="3.5"/>
<path d="M2434.7 951.9 C2430.4 952.9 2398.2 960.2 2392.1 961.9 C2386 963.7 2374.8 967.7 2373.9 969.5 C2372.9 971.4 2381 978.5 2383 980.2 C2385 981.9 2393 984.8 2393.6 986.3 C2394.2 987.8 2390 992.2 2389.1 995.4 C2388.2 998.6 2386 1015 2384.5 1018.2 C2383 1021.4 2374.9 1026.4 2373.9 1027.4" fill="none" stroke="#000" stroke-width="4.3"/>
<path d="M2431.7 959.5 C2445.4 962.7 2484.9 971.8 2513.8 978.7 C2542.7 985.5 2589.9 996.9 2605.1 1000.6" fill="none" stroke="#000" stroke-width="9"/>
<path d="M2495.6 984.2 L2574.7 998.5" fill="none" stroke="#000" stroke-width="4"/>
<path d="M2343.4 984.8 L2389.1 995.4" fill="none" stroke="#000" stroke-width="4.3"/>
<path d="M2392.1 998.5 C2408.8 1002.4 2469.2 1016 2492.5 1021.9 C2515.8 1027.7 2525.5 1031.5 2532.1 1033.4" fill="none" stroke="#000" stroke-width="5"/>
<path d="M2308.5 1012.1 C2319.4 1014.7 2338.1 1018.6 2373.9 1027.4 C2409.6 1036.1 2498.1 1058.3 2522.9 1064.5" fill="none" stroke="#000" stroke-width="5"/>
<path d="M2273.5 1161.2 C2284.6 1165.5 2305.9 1176.7 2340.4 1187.1 C2374.9 1197.5 2438.3 1212.6 2480.3 1223.6 C2522.4 1234.6 2574.1 1248.2 2592.9 1253.1" fill="none" stroke="#000" stroke-width="5"/>
<path d="M2285.6 1200.8 L2328.2 1211.4" fill="none" stroke="#000" stroke-width="4.3"/>
<path d="M2334.3 1219 L2471.2 1253.1" fill="none" stroke="#000" stroke-width="4.3"/>
<path d="M2340.4 1187.1 C2339.6 1189.9 2337.9 1199.7 2335.8 1203.8 C2333.8 1207.9 2329.5 1210.1 2328.2 1211.4" fill="none" stroke="#000" stroke-width="4.3"/>
<path d="M2334.3 1219 C2334 1220.1 2333.7 1228.3 2331.3 1229.7 C2328.8 1231 2311.5 1231 2310 1232.7 C2308.5 1234.4 2313.3 1242.6 2316.1 1246.4 C2318.8 1250.2 2335.2 1268.3 2337.4 1270.7" fill="none" stroke="#000" stroke-width="4.3"/>
<path d="M2355.6 1267.1 C2369.3 1271.2 2411.4 1283.7 2437.7 1292 C2464.1 1300.3 2501.1 1312.8 2513.8 1317" fill="none" stroke="#000" stroke-width="9"/>
<path d="M2398.2 1292 C2422.5 1299.2 2499.6 1322.5 2544.2 1335.2 C2588.8 1348 2630.4 1359.2 2665.9 1368.7 C2701.4 1378.2 2742 1388.5 2757.2 1392.4" fill="none" stroke="#000" stroke-width="3.5"/>
<path d="M2355.6 1277.4 C2382 1285 2467.2 1309.9 2513.8 1323.1 C2560.5 1336.2 2604.5 1348.4 2635.5 1356.5 C2666.5 1364.6 2677.2 1364.7 2700 1371.7 C2722.8 1378.7 2760.3 1394.1 2772.4 1398.5" fill="none" stroke="#000" stroke-width="4.3"/>
<path d="M2360.2 1028.9 C2356.4 1035.2 2342.9 1054 2337.4 1066.9 C2331.8 1079.8 2328.5 1099.9 2326.7 1106.5" fill="none" stroke="#000" stroke-width="4.3"/>
<path d="M2328.2 1173.4 L2337.4 1188.6" fill="none" stroke="#000" stroke-width="4.3"/>
<ellipse cx="2321.5" cy="1141.4" rx="20.1" ry="31.6" fill="#000"/>
<ellipse cx="2328.2" cy="1141.4" rx="10.3" ry="20.1" fill="#fff"/>
<path d="M2516.8 1071.5 C2512.8 1079.3 2498.6 1101.6 2492.5 1118.6 C2486.4 1135.6 2482.1 1157.2 2480.3 1173.4 C2478.6 1189.6 2480.8 1207.4 2481.9 1216 C2482.9 1224.6 2485.7 1223.6 2486.4 1225.1" fill="none" stroke="#000" stroke-width="4.8"/>
<path d="M2605.1 1001.5 C2601.5 1002.7 2580.3 1009.1 2574.7 1012.1 C2569 1015.2 2561.4 1024.7 2556.4 1027.4 C2551.4 1030 2535.8 1032.1 2532.1 1035 C2528.3 1037.8 2525.5 1048.3 2524.5 1051.7 C2523.4 1055.1 2522.6 1061.7 2522.9 1063.9 C2523.3 1066 2528.2 1069 2527.5 1069.9 C2526.8 1070.9 2518.1 1072.1 2516.8 1072.4" fill="none" stroke="#000" stroke-width="4.3"/>
<path d="M2556.4 1028.9 C2571.1 1032.9 2620.7 1046.9 2644.6 1053.2 C2668.6 1059.6 2690.8 1064.6 2700 1066.9" fill="none" stroke="#000" stroke-width="4.3"/>
<path d="M2532.1 1036.5 C2534.1 1036.6 2527.5 1032.9 2544.2 1037.1 C2561 1041.2 2617.8 1057.4 2632.5 1061.4" fill="none" stroke="#000" stroke-width="4.3"/>
<path d="M2527.5 1069.9 C2545 1074.4 2609.4 1090.2 2632.5 1096.4 C2655.5 1102.6 2660.3 1105.3 2665.9 1107.1" fill="none" stroke="#000" stroke-width="4.3"/>
<path d="M2544.2 1076 L2580.7 1079.7" fill="none" stroke="#000" stroke-width="4"/>
<path d="M2486.4 1225.1 C2484.7 1228.7 2476.8 1240.3 2475.8 1246.4 C2474.8 1252.5 2477.6 1257 2480.3 1261.6 C2483.1 1266.2 2487.9 1266.7 2492.5 1273.8 C2497.1 1280.9 2501.1 1295.6 2507.7 1304.2 C2514.3 1312.8 2528 1321.9 2532.1 1325.5" fill="none" stroke="#000" stroke-width="4.3"/>
<path d="M2492.5 1265.3 L2583.8 1286.6" fill="none" stroke="#000" stroke-width="4.3"/>
<path d="M2483.4 1252.5 L2544.2 1267.7" fill="none" stroke="#000" stroke-width="3"/>
<path d="M2632.5 1096.4 C2627.9 1107.2 2611.7 1140.8 2605.1 1161.2 C2598.5 1181.6 2594.9 1203.7 2592.9 1219 C2590.9 1234.3 2592.9 1247.4 2592.9 1253.1" fill="none" stroke="#000" stroke-width="4.3"/>
<path d="M2665.9 1107.1 C2662.4 1113 2650.7 1126.8 2644.6 1143 C2638.5 1159.1 2632.5 1184.5 2629.4 1203.8 C2626.4 1223.1 2626.9 1249.4 2626.4 1258.6" fill="none" stroke="#000" stroke-width="4.3"/>
<path d="M2644.6 1063.9 C2642.6 1065.4 2635 1068.9 2632.5 1073 C2629.9 1077 2628.9 1083.5 2629.4 1088.2 C2629.9 1092.9 2634.5 1098.8 2635.5 1101" fill="none" stroke="#000" stroke-width="4.3"/>
<path d="M2592.9 1255.5 C2591.4 1257.6 2585.3 1263.1 2583.8 1267.7 C2582.3 1272.3 2582.3 1278.5 2583.8 1282.9 C2585.3 1287.3 2587.8 1292 2592.9 1294.2 C2598 1296.3 2610.7 1295.4 2614.2 1295.7" fill="none" stroke="#000" stroke-width="4.3"/>
<ellipse cx="2632.5" cy="1282.9" rx="9.1" ry="11.6" fill="#fff" stroke="#000" stroke-width="5" transform="rotate(15 2632.5 1282.9)"/>
<ellipse cx="2632.5" cy="1282.9" rx="3" ry="4.9" fill="none" stroke="#000" stroke-width="4" transform="rotate(15 2632.5 1282.9)"/>
<path d="M2614.2 1295.7 C2615.2 1291 2616.7 1272.9 2620.3 1267.7 C2623.8 1262.5 2633 1265.2 2635.5 1264.7" fill="none" stroke="#000" stroke-width="4.3"/>
<path d="M2773.3 1041.7 C2757.6 1042.1 2739.1 1042.6 2723.3 1047.8 C2707.6 1053 2690 1062.2 2678.9 1072.8 C2667.8 1083.3 2662.7 1095.5 2656.7 1111.1 C2650.6 1126.8 2645.6 1148.1 2642.8 1166.7 C2640 1185.2 2639.5 1203.7 2640 1222.2 C2640.5 1240.7 2641.9 1260.2 2645.6 1277.8 C2649.3 1295.4 2653.9 1313.9 2662.2 1327.8 C2670.6 1341.7 2680.7 1351.4 2695.6 1361.1 C2710.4 1370.8 2734.4 1381.4 2751.1 1386.1 C2767.8 1390.8 2779.4 1391.7 2795.6 1389.4 C2811.8 1387.2 2833.5 1382.1 2848.3 1372.8 C2863.1 1363.4 2872.9 1351.5 2884.4 1333.3 C2896 1315.2 2909.4 1284.7 2917.8 1263.9 C2926.1 1243.1 2931 1224.5 2934.4 1208.3 C2937.9 1192.1 2939.5 1179.6 2938.6 1166.7 C2937.7 1153.7 2934.2 1142.6 2928.9 1130.6 C2923.6 1118.5 2916.9 1105.5 2906.7 1094.4 C2896.5 1083.4 2882.6 1072.7 2867.8 1064.4 C2853 1056.2 2833.5 1048.8 2817.8 1045 C2802 1041.2 2789.1 1041.2 2773.3 1041.7Z" fill="none" stroke="#000" stroke-width="5.5"/>
<path d="M2773.3 1054.2 C2758.5 1054.6 2742.8 1054.9 2728.9 1059.7 C2715 1064.6 2700.2 1073.4 2690 1083.3 C2679.8 1093.3 2673.6 1104.6 2667.8 1119.4 C2662 1134.3 2657.8 1155.1 2655.3 1172.2 C2652.7 1189.4 2652 1205.1 2652.5 1222.2 C2653 1239.4 2654.4 1258.8 2658.1 1275 C2661.8 1291.2 2666.9 1306.7 2674.7 1319.4 C2682.6 1332.2 2692.1 1342.4 2705.3 1351.4 C2718.5 1360.4 2738.8 1369.4 2753.9 1373.6 C2768.9 1377.8 2780.7 1378.5 2795.6 1376.4 C2810.4 1374.3 2829.4 1369.7 2842.8 1361.1 C2856.2 1352.5 2865.5 1341.7 2876.1 1325 C2886.8 1308.3 2899 1280.6 2906.7 1261.1 C2914.3 1241.7 2918.7 1223.6 2921.9 1208.3 C2925.2 1193.1 2926.8 1181.5 2926.1 1169.4 C2925.4 1157.4 2922.6 1147.2 2917.8 1136.1 C2912.9 1125 2906.2 1113 2896.9 1102.8 C2887.7 1092.6 2875.4 1082.6 2862.2 1075 C2849 1067.4 2832.6 1060.4 2817.8 1056.9 C2803 1053.5 2788.1 1053.7 2773.3 1054.2Z" fill="none" stroke="#000" stroke-width="9"/>
<path d="M2778.9 1059.7 C2763.6 1062.7 2742.8 1072.5 2728.9 1083.3 C2715 1094.2 2704.8 1108.8 2695.6 1125 C2686.3 1141.2 2677.7 1162 2673.3 1180.6 C2668.9 1199.1 2668.2 1217.6 2669.2 1236.1 C2670.1 1254.6 2672.2 1274.1 2678.9 1291.7 C2685.6 1309.3 2695.1 1329.2 2709.4 1341.7 C2723.8 1354.2 2744.2 1363.9 2765 1366.7 C2785.8 1369.4 2813.6 1368.5 2834.4 1358.3 C2855.3 1348.1 2876.6 1330.6 2890 1305.6 C2903.4 1280.6 2913.1 1233.3 2915 1208.3 C2916.9 1183.3 2909.9 1175 2901.1 1155.6 C2892.3 1136.1 2875.6 1106.7 2862.2 1091.7 C2848.8 1076.6 2834.4 1070.6 2820.6 1065.3 C2806.7 1060 2794.2 1056.7 2778.9 1059.7Z" fill="none" stroke="#000" stroke-width="9.5"/>
<path d="M2725.3 1105.9 L2791.4 1116.9 L2796.3 1074.1 L2823.2 1072.8 L2835.4 1103.4 L2840.3 1145.1 L2801.2 1145.1 L2766.9 1137.7 L2742.4 1132.8 L2735.1 1135.3 L2727.7 1113.2Z" fill="#000" stroke="#000" stroke-width="3"/>
<path d="M2757.1 1082.6 L2791.4 1075.3 L2788.9 1091.2 L2771.8 1088.8Z" fill="#fff" stroke="#fff" stroke-width="1"/>
<path d="M2735.1 1100.5 L2791.4 1103.4 L2788.9 1113.2 L2730.2 1106.4Z" fill="#fff" stroke="#fff" stroke-width="1"/>
<path d="M2735.1 1112 L2784 1124.2" fill="none" stroke="#fff" stroke-width="1.2"/>
<path d="M2802.4 1075.3 L2808.5 1074.1 L2798.7 1140.2 L2791.4 1137.7Z" fill="#fff" stroke="#fff" stroke-width="1"/>
<path d="M2799.9 1079 L2791.4 1137.7" fill="none" stroke="#000" stroke-width="3"/>
<path d="M2776.7 1147.5 C2771.8 1150.4 2755 1156.1 2747.3 1164.6 C2739.5 1173.2 2733.1 1186.7 2730.2 1198.9 C2727.2 1211.2 2727.6 1227.1 2729.7 1238.1 C2731.7 1249.1 2737.4 1258.3 2742.4 1265 C2747.4 1271.7 2756.7 1276.2 2759.5 1278.5" fill="none" stroke="#000" stroke-width="5"/>
<path d="M2766.9 1140.2 C2762.8 1139.8 2749.7 1133.2 2742.4 1137.7 C2735.1 1142.2 2726.4 1160.2 2722.8 1167.1 C2719.2 1174 2721.2 1177.3 2720.9 1179.3" fill="none" stroke="#000" stroke-width="6"/>
<path d="M2737.5 1130.4 C2739.1 1130 2742.4 1126.3 2747.3 1127.9 C2752.2 1129.6 2763.6 1138.1 2766.9 1140.2" fill="none" stroke="#000" stroke-width="5"/>
<path d="M2735.1 1150 C2737.1 1148.7 2742.4 1143.4 2747.3 1142.6 C2752.2 1141.8 2761.6 1144.6 2764.4 1145.1" fill="none" stroke="#000" stroke-width="5"/>
<path d="M2730.2 1167.1 L2737.5 1162.2 L2741.2 1169.5 L2733.8 1175.7Z" fill="none" stroke="#000" stroke-width="4"/>
<path d="M2720.9 1179.3 L2722.8 1201.4" fill="none" stroke="#000" stroke-width="5"/>
<path d="M2678.8 1201.8 L2720.9 1202.8" fill="none" stroke="#000" stroke-width="5"/>
<path d="M2682.4 1216 L2710.6 1217.3 L2710.6 1238.1 L2682.4 1231.2Z" fill="none" stroke="#000" stroke-width="5"/>
<path d="M2710.6 1238.1 C2711.8 1241.8 2715.5 1254 2717.9 1260.1 C2720.4 1266.2 2723 1270.7 2725.3 1274.8 C2727.5 1278.9 2724.9 1281.9 2731.4 1284.6 C2737.9 1287.2 2758.9 1289.7 2764.4 1290.7" fill="none" stroke="#000" stroke-width="7"/>
<path d="M2714.2 1245.4 L2722.8 1241.8 L2727.7 1257.7 L2719.1 1261.3Z" fill="#fff" stroke="#000" stroke-width="4"/>
<ellipse cx="2727" cy="1266.2" rx="2.9" ry="4.9" fill="#fff" stroke="#000" stroke-width="4" transform="rotate(10 2727 1266.2)"/>
<path d="M2678.8 1245.4 C2680.8 1246.2 2688.5 1248.3 2691 1250.3 C2693.4 1252.4 2695.5 1255.2 2693.4 1257.7 C2691.4 1260.1 2681.2 1263.8 2678.8 1265" fill="none" stroke="#000" stroke-width="6"/>
<path d="M2693.4 1257.7 C2695.5 1258.5 2701.6 1259.3 2705.7 1262.6 C2709.8 1265.8 2713.8 1273.6 2717.9 1277.2 C2722 1280.9 2728.1 1283.4 2730.2 1284.6" fill="none" stroke="#000" stroke-width="6"/>
<path d="M2762.7 1290 L2753.7 1361" fill="none" stroke="#000" stroke-width="8"/>
<path d="M2769.8 1299.3 C2773 1303.4 2786.1 1317.6 2788.9 1323.8 C2791.7 1329.9 2790.1 1331.9 2786.5 1336 C2782.8 1340.1 2770.1 1346.2 2766.9 1348.2" fill="none" stroke="#000" stroke-width="5.5"/>
<path d="M2776.7 1284.6 C2778.3 1288.7 2783.2 1301.3 2786.5 1309.1 C2789.7 1316.8 2794.6 1327.4 2796.3 1331.1" fill="none" stroke="#000" stroke-width="5.5"/>
<path d="M2766.9 1314 L2781.6 1318.9" fill="none" stroke="#000" stroke-width="4.5"/>
<path d="M2791.4 1284.6 C2793.8 1286.6 2802 1291.1 2806 1296.8 C2810.1 1302.5 2814.2 1315.2 2815.8 1318.9" fill="none" stroke="#000" stroke-width="5"/>
<path d="M2677.5 1274.8 C2679 1278.9 2682.2 1292.5 2686.1 1299.3 C2690 1306 2696.1 1310.9 2700.8 1315.2 C2705.5 1319.5 2711.4 1319.9 2714.2 1325 C2717.1 1330.1 2717.3 1342.3 2717.9 1345.8" fill="none" stroke="#000" stroke-width="7.5"/>
<path d="M2651.8 1289.5 C2653.9 1294.4 2659.6 1310.7 2664.1 1318.9 C2668.6 1327 2673 1333.5 2678.8 1338.4 C2684.5 1343.3 2691.8 1347 2698.3 1348.2 C2704.9 1349.5 2714.7 1346.2 2717.9 1345.8" fill="none" stroke="#000" stroke-width="7"/>
<path d="M2683.6 1321.3 C2685.3 1323.8 2689.8 1335.2 2693.4 1336 C2697.1 1336.8 2703.6 1327.8 2705.7 1326.2" fill="none" stroke="#000" stroke-width="6"/>
<path d="M2698.3 1332.3 L2703.2 1327.4 L2702.7 1338.9Z" fill="#fff" stroke="#fff" stroke-width="1"/>
<path d="M2642 1147 L2660.4 1145.1" fill="none" stroke="#000" stroke-width="5"/>
<path d="M2634.7 1233.7 L2654.3 1233.7" fill="none" stroke="#000" stroke-width="5"/>
<path d="M2651.8 1250.3 L2669 1255.2" fill="none" stroke="#000" stroke-width="6"/>
<path d="M2632.2 1235.6 C2632.4 1240.1 2631.6 1258.3 2633.5 1262.6 C2635.3 1266.8 2641.4 1264.2 2643.3 1261.3 C2645.1 1258.5 2644.3 1248.1 2644.5 1245.4" fill="none" stroke="#000" stroke-width="4"/>
<path d="M2691 1110.8 C2693 1113.4 2700.8 1118.9 2703.2 1126.7 C2705.7 1134.4 2708.9 1150.6 2705.7 1157.3 C2702.4 1164 2687.3 1165.5 2683.6 1167.1" fill="none" stroke="#000" stroke-width="5"/>
<path d="M2692.2 1145.1 L2697.1 1142.6 L2695.9 1151.2Z" fill="#fff" stroke="#000" stroke-width="3"/>
<path d="M2671.4 1118.1 L2688.5 1120.6" fill="none" stroke="#000" stroke-width="6"/>
<path d="M2662.8 1145.1 C2665.1 1142.2 2670 1134 2676.3 1127.9 C2682.6 1121.8 2696.7 1111.6 2700.8 1108.3" fill="none" stroke="#000" stroke-width="4"/>
<path d="M2677.5 1167.1 C2676.5 1172.8 2672.6 1190.3 2671.4 1201.4 C2670.2 1212.4 2671.2 1226.9 2670.2 1233.2 C2669.2 1239.5 2664.5 1238.5 2665.3 1239.3 C2666.1 1240.1 2673.4 1238.3 2675.1 1238.1" fill="none" stroke="#000" stroke-width="4.5"/>
<path d="M2629.8 1086.3 C2630 1084.3 2628.2 1077.7 2631 1074.1 C2633.9 1070.4 2640.2 1065.1 2646.9 1064.3 C2653.7 1063.5 2667.3 1068.4 2671.4 1069.2" fill="none" stroke="#000" stroke-width="5"/>
<path d="M2629.8 1086.3 C2630.6 1088.3 2630.2 1095.7 2634.7 1098.5 C2639.2 1101.4 2653 1102.6 2656.7 1103.4" fill="none" stroke="#000" stroke-width="5"/>
<path d="M2659.2 1069.2 C2658.8 1072 2656.7 1080.6 2656.7 1086.3 C2656.7 1092 2658.8 1100.6 2659.2 1103.4" fill="none" stroke="#000" stroke-width="4.5"/>
<path d="M2669 1079 L2681.2 1074.1 L2693.4 1086.3 L2689.8 1103.4 L2675.1 1106.4 L2666.5 1094.1Z" fill="#fff" stroke="#000" stroke-width="5"/>
<ellipse cx="2681.2" cy="1092.4" rx="2.9" ry="4.9" fill="#fff" stroke="#000" stroke-width="4.5" transform="rotate(15 2681.2 1092.4)"/>
<path d="M2689.8 1103.4 C2691.6 1104.7 2699.8 1112.8 2700.8 1110.8 C2701.8 1108.7 2696.3 1096.5 2695.9 1091.2 C2695.5 1085.9 2694.7 1083 2698.3 1079 C2702 1074.9 2708.1 1071 2717.9 1066.7 C2727.7 1062.4 2748.1 1055.3 2757.1 1053.3 C2766.1 1051.2 2769.1 1053.5 2771.8 1054.5 C2774.4 1055.5 2776.3 1057.9 2773 1059.4 C2769.7 1060.8 2755.7 1062.4 2752.2 1063" fill="none" stroke="#000" stroke-width="5"/>
<path d="M2620 1051.5 L2671.4 1066.7" fill="none" stroke="#000" stroke-width="4.5"/>
<path d="M2620 1094.1 L2659.2 1103.4" fill="none" stroke="#000" stroke-width="4.5"/>
<path d="M2620 1274.8 C2622 1274.4 2628.5 1271.5 2632.2 1272.4 C2636 1273.2 2641.3 1275.8 2642.5 1279.7 C2643.7 1283.6 2643.3 1292.3 2639.6 1295.6 C2635.8 1298.9 2623.3 1298.7 2620 1299.3" fill="none" stroke="#000" stroke-width="5"/>
<ellipse cx="2633.5" cy="1282.1" rx="2.7" ry="4.2" fill="#fff" stroke="#000" stroke-width="4.5" transform="rotate(15 2633.5 1282.1)"/>
<path d="M2642.5 1279.7 C2643.7 1279.3 2647.8 1275.6 2649.4 1277.2 C2650.9 1278.9 2651.4 1287.4 2651.8 1289.5" fill="none" stroke="#000" stroke-width="4.5"/>
<path d="M2736.4 1216 C2736.7 1211.2 2739.2 1194 2741.2 1189.1 C2743.3 1184.2 2752.1 1170.8 2757.2 1167.1 C2762.2 1163.4 2787.1 1154.6 2791.4 1152.4 C2795.7 1150.2 2798 1145.9 2800 1145.1 C2802 1144.2 2808.6 1142.6 2811 1143.8 C2813.5 1145.1 2822.4 1154.5 2824.5 1157.3 C2826.6 1160.1 2828.4 1169.5 2831.8 1172 C2835.3 1174.4 2858.3 1178.8 2858.8 1181.8 C2859.2 1184.7 2840.1 1195.7 2836.7 1201.4 C2833.3 1207 2824.7 1230.7 2824.5 1238.1 C2824.2 1245.4 2832.3 1270.1 2834.3 1274.8 C2836.2 1279.4 2847.5 1283.6 2844.1 1284.6 C2840.6 1285.6 2807.7 1285.8 2800 1285.1 C2792.3 1284.3 2772.2 1279.5 2767 1277.2 C2761.7 1275 2750.3 1266.5 2747.4 1262.6 C2744.4 1258.6 2738.7 1242.7 2737.6 1238.1 C2736.5 1233.4 2736 1220.9 2736.4 1216Z" fill="#000" stroke="#000" stroke-width="2"/>
<path d="M2806.1 1154.8 L2813.5 1156.1 L2812.2 1163.4 L2806.1 1163.4Z" fill="#fff" stroke="#fff" stroke-width="1"/>
<ellipse cx="2857.5" cy="1238.6" rx="35" ry="47.7" fill="#fff" stroke="#000" stroke-width="5.5" transform="rotate(8 2857.5 1238.6)"/>
<path d="M2834.3 1225.8 C2835 1222.9 2842.2 1217 2845.3 1216 C2848.3 1215.1 2867.6 1213.6 2871 1214.8 C2874.4 1216 2884.5 1228 2885.7 1230.7 C2886.9 1233.5 2886.5 1245.2 2885.7 1247.9 C2884.9 1250.5 2879.2 1261.2 2875.9 1262.6 C2872.6 1263.9 2849.8 1264.7 2846.5 1263.8 C2843.2 1262.9 2837.7 1254.7 2836.7 1251.5 C2835.7 1248.4 2833.6 1228.8 2834.3 1225.8Z" fill="#000" stroke="#000" stroke-width="2"/>
<ellipse cx="2865.6" cy="1241.8" rx="11.5" ry="17.6" fill="#fff" transform="rotate(10 2865.6 1241.8)"/>
<path d="M2844.8 1233.2 L2849.7 1223.4" fill="none" stroke="#fff" stroke-width="1.5"/>
<path d="M2844.1 1246.6 L2846 1254" fill="none" stroke="#fff" stroke-width="1.2"/>
<path d="M2800 1076.5 C2801.8 1076.1 2807.5 1072 2811 1074.1 C2814.5 1076.1 2818.6 1077.7 2820.8 1088.8 C2823.1 1099.8 2823.9 1131.6 2824.5 1140.2" fill="none" stroke="#000" stroke-width="4.5"/>
<path d="M2811 1074.1 L2804.9 1142.6" fill="none" stroke="#000" stroke-width="3"/>
<path d="M2829.4 1076.5 L2863.6 1075.3 L2880.8 1103.4 L2897.9 1127.9 L2915.1 1137.7 L2907.7 1152.4 L2885.7 1145.1 L2873.4 1157.3 L2831.8 1150 L2829.4 1127.9 L2824.5 1103.4Z" fill="#000" stroke="#000" stroke-width="3"/>
<path d="M2841.6 1103.4 L2846.5 1101 L2845.3 1110.8Z" fill="#fff" stroke="#fff" stroke-width="1"/>
<path d="M2857.5 1101 L2873.4 1108.3 L2863.6 1132.8 L2852.6 1127.9Z" fill="#fff" stroke="#fff" stroke-width="1"/>
<path d="M2836.7 1147.5 L2866.1 1153.6 L2867.3 1157.3 L2835.5 1151.2Z" fill="#fff" stroke="#fff" stroke-width="1"/>
<path d="M2884.5 1146.3 L2893 1148.7 L2891.8 1152.4 L2885.7 1151.2Z" fill="#fff" stroke="#fff" stroke-width="1"/>
<path d="M2831.8 1088.8 L2836.7 1110.8 L2842.8 1132.8 L2836.7 1135.3 L2829.4 1110.8Z" fill="#fff" stroke="#fff" stroke-width="1"/>
<path d="M2867.3 1082.6 L2880.8 1101 L2884.5 1110.8 L2873.4 1103.4Z" fill="#fff" stroke="#fff" stroke-width="1"/>
<path d="M2866.1 1135.3 L2885.7 1131.6 L2868.5 1139.7Z" fill="#fff" stroke="#fff" stroke-width="1"/>
<path d="M2829.4 1162.2 C2831 1163 2838.8 1165.5 2839.2 1167.1 C2839.6 1168.7 2833 1171.2 2831.8 1172" fill="none" stroke="#000" stroke-width="4"/>
<path d="M2845.3 1167.1 L2847.7 1176.9" fill="none" stroke="#000" stroke-width="5"/>
<path d="M2855.1 1167.1 L2860 1179.3" fill="none" stroke="#000" stroke-width="5"/>
<path d="M2869.8 1168.3 C2872 1169.3 2879.8 1171.4 2883.2 1174.4 C2886.7 1177.5 2888.9 1182.2 2890.6 1186.7 C2892.2 1191.2 2892.6 1198.9 2893 1201.4" fill="none" stroke="#000" stroke-width="5.5"/>
<path d="M2873.4 1176.9 C2875.3 1178.5 2882.4 1183 2884.5 1186.7 C2886.5 1190.3 2885.5 1196.9 2885.7 1198.9" fill="none" stroke="#000" stroke-width="4"/>
<path d="M2893 1132.8 C2893.8 1136.9 2896.3 1148.3 2897.9 1157.3 C2899.6 1166.3 2902.8 1176.9 2902.8 1186.7 C2902.8 1196.5 2898.5 1205.4 2897.9 1216 C2897.3 1226.7 2898.9 1244.6 2899.1 1250.3" fill="none" stroke="#000" stroke-width="6"/>
<path d="M2915.1 1127.9 C2917.5 1128.3 2926.1 1127.5 2929.7 1130.4 C2933.4 1133.2 2935.5 1137.3 2937.1 1145.1 C2938.7 1152.8 2940.1 1169.5 2939.5 1176.9 C2938.9 1184.2 2934.4 1187.1 2933.4 1189.1" fill="none" stroke="#000" stroke-width="5.5"/>
<ellipse cx="2923.6" cy="1151.2" rx="4.2" ry="6.6" fill="#fff" stroke="#000" stroke-width="5" transform="rotate(10 2923.6 1151.2)"/>
<path d="M2926.1 1174.4 L2933.4 1189.1 L2924.8 1196.5Z" fill="#000" stroke="#000" stroke-width="3"/>
<path d="M2905.3 1184.2 L2922.4 1181.8 L2923.6 1218.5 L2907.7 1220.9Z" fill="#000" stroke="#000" stroke-width="5"/>
<ellipse cx="2917" cy="1206.3" rx="3.4" ry="5.9" fill="#fff" transform="rotate(5 2917 1206.3)"/>
<path d="M2906.5 1191.6 L2916.3 1187.9" fill="none" stroke="#fff" stroke-width="2"/>
<path d="M2933.4 1189.1 C2934.2 1193.6 2938.5 1205.8 2938.3 1216 C2938.1 1226.2 2936.1 1238.5 2932.2 1250.3 C2928.3 1262.2 2920.8 1276.4 2915.1 1287 C2909.3 1297.6 2903.2 1306.5 2897.9 1314 C2892.6 1321.4 2885.7 1328.7 2883.2 1331.6" fill="none" stroke="#000" stroke-width="5"/>
<path d="M2924.8 1218.5 C2924.4 1223.8 2925.3 1239.3 2922.4 1250.3 C2919.5 1261.3 2913.8 1273.6 2907.7 1284.6 C2901.6 1295.6 2891.8 1311 2885.7 1316.4 C2879.6 1321.8 2873.4 1316.8 2871 1316.9" fill="none" stroke="#000" stroke-width="6"/>
<path d="M2907.7 1220.9 C2906.5 1225.8 2904.4 1238.9 2900.4 1250.3 C2896.3 1261.7 2889.4 1279.6 2883.2 1289.5 C2877.1 1299.4 2866.9 1306.2 2863.6 1309.6" fill="none" stroke="#000" stroke-width="5"/>
<path d="M2861.2 1323.8 C2864.5 1323.3 2876.4 1319.7 2880.8 1321.3 C2885.1 1322.9 2887 1328.2 2887.4 1333.5 C2887.8 1338.9 2886.4 1348.6 2883.2 1353.1 C2880.1 1357.7 2872.6 1360.6 2868.5 1361 C2864.5 1361.4 2860.4 1356.5 2858.8 1355.6" fill="none" stroke="#000" stroke-width="6"/>
<ellipse cx="2874.7" cy="1340.9" rx="2.4" ry="4.4" fill="#fff" stroke="#000" stroke-width="4.5" transform="rotate(20 2874.7 1340.9)"/>
<path d="M2836.7 1289.5 L2869.8 1287 L2861.2 1311.5 L2863.6 1323.8 L2856.3 1345.8 L2836.7 1333.5 L2834.3 1311.5Z" fill="#000" stroke="#000" stroke-width="3"/>
<path d="M2849 1295.6 L2852.6 1294.4 L2851.9 1299.3Z" fill="#fff" stroke="#fff" stroke-width="1"/>
<path d="M2860 1305.4 L2866.1 1307.8 L2862.4 1311.5Z" fill="#fff" stroke="#fff" stroke-width="1"/>
<path d="M2841.6 1314 L2856.3 1311.5 L2840.4 1332.3Z" fill="#fff" stroke="#fff" stroke-width="1"/>
<path d="M2850.2 1336 L2857.5 1334.8 L2855.8 1340.9Z" fill="#fff" stroke="#fff" stroke-width="1"/>
<path d="M2824.5 1289.5 C2822.8 1295.2 2818.8 1312.7 2814.7 1323.8 C2810.6 1334.8 2802.4 1350.3 2800 1355.6" fill="none" stroke="#000" stroke-width="5"/>
<path d="M2834.3 1294.4 C2833.9 1301.3 2835.1 1325 2831.8 1336 C2828.6 1347 2820 1354.7 2814.7 1360.5 C2809.4 1366.3 2802.4 1369 2800 1370.8" fill="none" stroke="#000" stroke-width="5"/>
<path d="M2785.3 1287 C2783.7 1293.2 2780 1313.6 2775.5 1323.8 C2771 1334 2761.2 1344.2 2758.4 1348.2" fill="none" stroke="#000" stroke-width="5"/>
<path d="M2800 1372.7 C2805.3 1370.8 2821.6 1365.4 2831.8 1361 C2842 1356.6 2856.3 1348.7 2861.2 1346.3" fill="none" stroke="#000" stroke-width="4.5"/>
<path d="M2800 1383 C2806.1 1381 2826.1 1375.2 2836.7 1370.8 C2847.3 1366.3 2859.2 1358.5 2863.6 1356.1" fill="none" stroke="#000" stroke-width="4.5"/>
<path d="M2800 1059.4 C2807.3 1061 2831.8 1063.9 2844.1 1069.2 C2856.3 1074.5 2864.5 1082.6 2873.4 1091.2 C2882.4 1099.8 2892.2 1113.2 2897.9 1120.6 C2903.6 1127.9 2906.1 1132.8 2907.7 1135.3" fill="none" stroke="#000" stroke-width="4.5"/>
<path d="M2936.9 986.7 L2961.1 990.6 L2938.1 1074 L2914.3 1068.4Z" fill="#fff" stroke="#000" stroke-width="4.5"/>
<ellipse cx="2949.2" cy="989" rx="12.3" ry="4.8" fill="#fff" stroke="#000" stroke-width="4.5" transform="rotate(8 2949.2 989)"/>
<path d="M2914.3 1068.4 C2914.9 1069.7 2915.3 1074.8 2918.3 1076.3 C2921.2 1077.9 2928.8 1078.5 2932.1 1077.9 C2935.4 1077.4 2937.1 1074 2938.1 1073.2" fill="none" stroke="#000" stroke-width="4.5"/>
<path d="M2920.2 1065.2 L2934.1 1069.2" fill="none" stroke="#000" stroke-width="3"/>
<path d="M1936.6 143.7 C1942.3 141.6 2016.8 113.4 2022.8 111.9 C2028.7 110.4 2025.1 120.8 2025.9 121.1 C2026.7 121.5 2034.5 117.3 2035.1 117" fill="none" stroke="#000" stroke-width="2.8"/>
<path d="M1969.4 126.2 C1974 125.2 1988.1 122.4 1997.1 120.1 C2006.2 117.8 2019.4 113.6 2023.8 112.3" fill="none" stroke="#000" stroke-width="2.8"/>
<path d="M1936.6 143.7 C1937 144.5 1939.9 148.7 1939.6 149.9 C1939.4 151 1933.4 150.1 1934.5 152.5 C1935.6 155 1945.5 163.1 1947.8 168.3 C1950.2 173.6 1950.3 185.8 1952 192 C1953.6 198.1 1958 209.1 1960.2 214.5 C1962.4 220 1965.6 228.6 1968.4 233 C1971.1 237.4 1977.7 243.3 1980.7 247.4 C1983.7 251.5 1988.6 258.9 1991 263.8 C1993.3 268.7 1996.6 281.6 1998.2 284.4 C1999.7 287.1 2001.7 284.4 2002.3 284.4" fill="none" stroke="#000" stroke-width="2.4"/>
<path d="M1941.7 146.8 C1947.2 144.7 1964.6 137.5 1974.5 134.5 C1984.5 131.4 1992.7 129.8 2001.2 128.3 C2009.8 126.8 2021.8 125.7 2025.9 125.2" fill="none" stroke="#000" stroke-width="2"/>
<path d="M2035.1 117 C2035.7 118.5 2037.7 124.3 2039.2 128.3 C2040.7 132.3 2043.8 142.1 2046.4 146.8 C2049 151.4 2055.7 157.7 2058.7 163.2 C2061.7 168.7 2066.5 181.3 2069 187.8 C2071.5 194.4 2074.7 207.3 2077.2 212.5 C2079.7 217.7 2084.7 223.6 2087.5 226.9 C2090.2 230.1 2096.4 235.2 2097.7 237.1 C2099.1 239 2097.7 240.7 2097.7 241.2" fill="none" stroke="#000" stroke-width="2"/>
<path d="M2036.1 139.6 C2038.9 142.5 2047.4 150 2052.6 157 C2057.7 164.1 2063.2 172.8 2066.9 181.7 C2070.7 190.6 2072.4 202.6 2075.2 210.4 C2077.9 218.3 2082 225.8 2083.4 228.9" fill="none" stroke="#000" stroke-width="1.8"/>
<path d="M2002.3 284.4 C2004.3 282.4 2011.8 273.5 2017.7 270 C2023.5 266.4 2039 260.3 2046.4 257.7 C2053.8 255.1 2066.3 252.7 2073.1 250.5 C2079.9 248.3 2094.5 242.5 2097.7 241.2" fill="none" stroke="#000" stroke-width="2.4"/>
<path d="M2011.5 274.1 C2013.9 272.2 2017 267.4 2025.9 262.8 C2034.8 258.2 2058.4 249.1 2064.9 246.4" fill="none" stroke="#000" stroke-width="1.6"/>
<path d="M2043.3 260.1 C2046.9 259.4 2057.5 258.1 2064.9 255.6 C2072.2 253.1 2083.7 247 2087.5 245.3" fill="none" stroke="#000" stroke-width="1.6"/>
<path d="M1950.9 147.8 L1974.5 140" fill="none" stroke="#000" stroke-width="1.6"/>
<path d="M1988.9 151.9 L2022.8 142.7 L2027.9 149.9 L2037.2 149.9 L2040.2 156" fill="none" stroke="#000" stroke-width="1.6"/>
<path d="M1980.7 168.3 C1988.6 165.7 2018.5 155.6 2027.9 152.5 C2037.3 149.4 2035.6 150.3 2037.2 149.9" fill="none" stroke="#000" stroke-width="1.6"/>
<path d="M1986.9 154 C1985.7 155.6 1976.2 169 1975.6 170.4 C1974.9 171.8 1979.7 169.4 1980.7 168.3 C1981.7 167.3 1985.3 160.9 1985.8 160.1" fill="none" stroke="#000" stroke-width="1.6"/>
<path d="M1958.1 179.6 L1967.4 175.5" fill="none" stroke="#000" stroke-width="1.6"/>
<path d="M1958.1 179.6 L1962.2 183.7" fill="none" stroke="#000" stroke-width="2"/>
<path d="M1949.9 171.4 C1950.9 175.5 1953.7 187.2 1956.1 196.1 C1958.5 205 1960.5 216.6 1964.3 224.8 C1968 233 1976.2 241.9 1978.6 245.3" fill="none" stroke="#000" stroke-width="1.8"/>
<path d="M1967.4 196.1 C1969.2 199.8 1974.5 210.3 1978.6 218.6 C1982.8 227 1989.8 241.7 1992 246.4" fill="none" stroke="#000" stroke-width="1.8"/>
<path d="M2040.2 163.2 C2037.9 167 2031.3 177.2 2025.9 185.8 C2020.4 194.3 2012.2 206 2007.4 214.5 C2002.6 223.1 1999.3 230.5 1997.1 237.1 C1994.9 243.8 1994.6 251.7 1994 254.6" fill="none" stroke="#000" stroke-width="2"/>
<path d="M2045.4 188.9 C2042.8 193.1 2034.6 205.8 2030 214.5 C2025.4 223.3 2020.7 233.9 2017.7 241.2 C2014.6 248.6 2012.5 255.8 2011.5 258.7" fill="none" stroke="#000" stroke-width="2"/>
<path d="M2011.5 258.7 C2017.3 256.1 2035.5 247.7 2046.4 243.3 C2057.4 238.8 2072.1 233.9 2077.2 232" fill="none" stroke="#000" stroke-width="2.4"/>
<path d="M2052.6 181.7 L2066.9 211.5" fill="none" stroke="#000" stroke-width="1.8"/>
<path d="M2073.1 224.8 L2077.2 232" fill="none" stroke="#000" stroke-width="2.4"/>
<path d="M1978.6 239.2 C1979.7 240.9 1982.4 245 1984.8 249.4 C1987.2 253.9 1991.6 263.1 1993 265.9" fill="none" stroke="#000" stroke-width="1.6"/>
<path d="M3124.1 141.7 C3129.8 139.6 3204.3 111.4 3210.3 109.9 C3216.2 108.4 3212.6 118.8 3213.4 119.1 C3214.2 119.5 3222 115.3 3222.6 115" fill="none" stroke="#000" stroke-width="2.8"/>
<path d="M3156.9 124.2 C3161.5 123.2 3175.6 120.4 3184.6 118.1 C3193.7 115.8 3206.9 111.6 3211.3 110.3" fill="none" stroke="#000" stroke-width="2.8"/>
<path d="M3124.1 141.7 C3124.5 142.5 3127.4 146.7 3127.1 147.9 C3126.9 149 3120.9 148.1 3122 150.5 C3123.1 153 3133 161.1 3135.3 166.3 C3137.7 171.6 3137.8 183.8 3139.5 190 C3141.1 196.1 3145.5 207.1 3147.7 212.5 C3149.9 218 3153.1 226.6 3155.9 231 C3158.6 235.4 3165.2 241.3 3168.2 245.4 C3171.2 249.5 3176.1 256.9 3178.5 261.8 C3180.8 266.7 3184.1 279.6 3185.7 282.4 C3187.2 285.1 3189.2 282.4 3189.8 282.4" fill="none" stroke="#000" stroke-width="2.4"/>
<path d="M3129.2 144.8 C3134.7 142.7 3152.1 135.5 3162 132.5 C3172 129.4 3180.2 127.8 3188.7 126.3 C3197.3 124.8 3209.3 123.7 3213.4 123.2" fill="none" stroke="#000" stroke-width="2"/>
<path d="M3222.6 115 C3223.2 116.5 3225.2 122.3 3226.7 126.3 C3228.2 130.3 3231.3 140.1 3233.9 144.8 C3236.5 149.4 3243.2 155.7 3246.2 161.2 C3249.2 166.7 3254 179.3 3256.5 185.8 C3259 192.4 3262.2 205.3 3264.7 210.5 C3267.2 215.7 3272.2 221.6 3275 224.9 C3277.7 228.1 3283.9 233.2 3285.2 235.1 C3286.6 237 3285.2 238.7 3285.2 239.2" fill="none" stroke="#000" stroke-width="2"/>
<path d="M3223.6 137.6 C3226.4 140.5 3234.9 148 3240.1 155 C3245.2 162.1 3250.7 170.8 3254.4 179.7 C3258.2 188.6 3259.9 200.6 3262.7 208.4 C3265.4 216.3 3269.5 223.8 3270.9 226.9" fill="none" stroke="#000" stroke-width="1.8"/>
<path d="M3189.8 282.4 C3191.8 280.4 3199.3 271.5 3205.2 268 C3211 264.4 3226.5 258.3 3233.9 255.7 C3241.3 253.1 3253.8 250.7 3260.6 248.5 C3267.4 246.3 3282 240.5 3285.2 239.2" fill="none" stroke="#000" stroke-width="2.4"/>
<path d="M3199 272.1 C3201.4 270.2 3204.5 265.4 3213.4 260.8 C3222.3 256.2 3245.9 247.1 3252.4 244.4" fill="none" stroke="#000" stroke-width="1.6"/>
<path d="M3230.8 258.1 C3234.4 257.4 3245 256.1 3252.4 253.6 C3259.7 251.1 3271.2 245 3275 243.3" fill="none" stroke="#000" stroke-width="1.6"/>
<path d="M3138.4 145.8 L3162 138" fill="none" stroke="#000" stroke-width="1.6"/>
<path d="M3176.4 149.9 L3210.3 140.7 L3215.4 147.9 L3224.7 147.9 L3227.7 154" fill="none" stroke="#000" stroke-width="1.6"/>
<path d="M3168.2 166.3 C3176.1 163.7 3206 153.6 3215.4 150.5 C3224.8 147.4 3223.1 148.3 3224.7 147.9" fill="none" stroke="#000" stroke-width="1.6"/>
<path d="M3174.4 152 C3173.2 153.6 3163.7 167 3163.1 168.4 C3162.4 169.8 3167.2 167.4 3168.2 166.3 C3169.2 165.3 3172.8 158.9 3173.3 158.1" fill="none" stroke="#000" stroke-width="1.6"/>
<path d="M3145.6 177.6 L3154.9 173.5" fill="none" stroke="#000" stroke-width="1.6"/>
<path d="M3145.6 177.6 L3149.7 181.7" fill="none" stroke="#000" stroke-width="2"/>
<path d="M3137.4 169.4 C3138.4 173.5 3141.2 185.2 3143.6 194.1 C3146 203 3148 214.6 3151.8 222.8 C3155.5 231 3163.7 239.9 3166.1 243.3" fill="none" stroke="#000" stroke-width="1.8"/>
<path d="M3154.9 194.1 C3156.7 197.8 3162 208.3 3166.1 216.6 C3170.3 225 3177.3 239.7 3179.5 244.4" fill="none" stroke="#000" stroke-width="1.8"/>
<path d="M3227.7 161.2 C3225.4 165 3218.8 175.2 3213.4 183.8 C3207.9 192.3 3199.7 204 3194.9 212.5 C3190.1 221.1 3186.8 228.5 3184.6 235.1 C3182.4 241.8 3182.1 249.7 3181.5 252.6" fill="none" stroke="#000" stroke-width="2"/>
<path d="M3232.9 186.9 C3230.3 191.1 3222.1 203.8 3217.5 212.5 C3212.9 221.3 3208.2 231.9 3205.2 239.2 C3202.1 246.6 3200 253.8 3199 256.7" fill="none" stroke="#000" stroke-width="2"/>
<path d="M3199 256.7 C3204.8 254.1 3223 245.7 3233.9 241.3 C3244.9 236.8 3259.6 231.9 3264.7 230" fill="none" stroke="#000" stroke-width="2.4"/>
<path d="M3240.1 179.7 L3254.4 209.5" fill="none" stroke="#000" stroke-width="1.8"/>
<path d="M3260.6 222.8 L3264.7 230" fill="none" stroke="#000" stroke-width="2.4"/>
<path d="M3166.1 237.2 C3167.2 238.9 3169.9 243 3172.3 247.4 C3174.7 251.9 3179.1 261.1 3180.5 263.9" fill="none" stroke="#000" stroke-width="1.6"/>
</g>
</svg></body></html>
